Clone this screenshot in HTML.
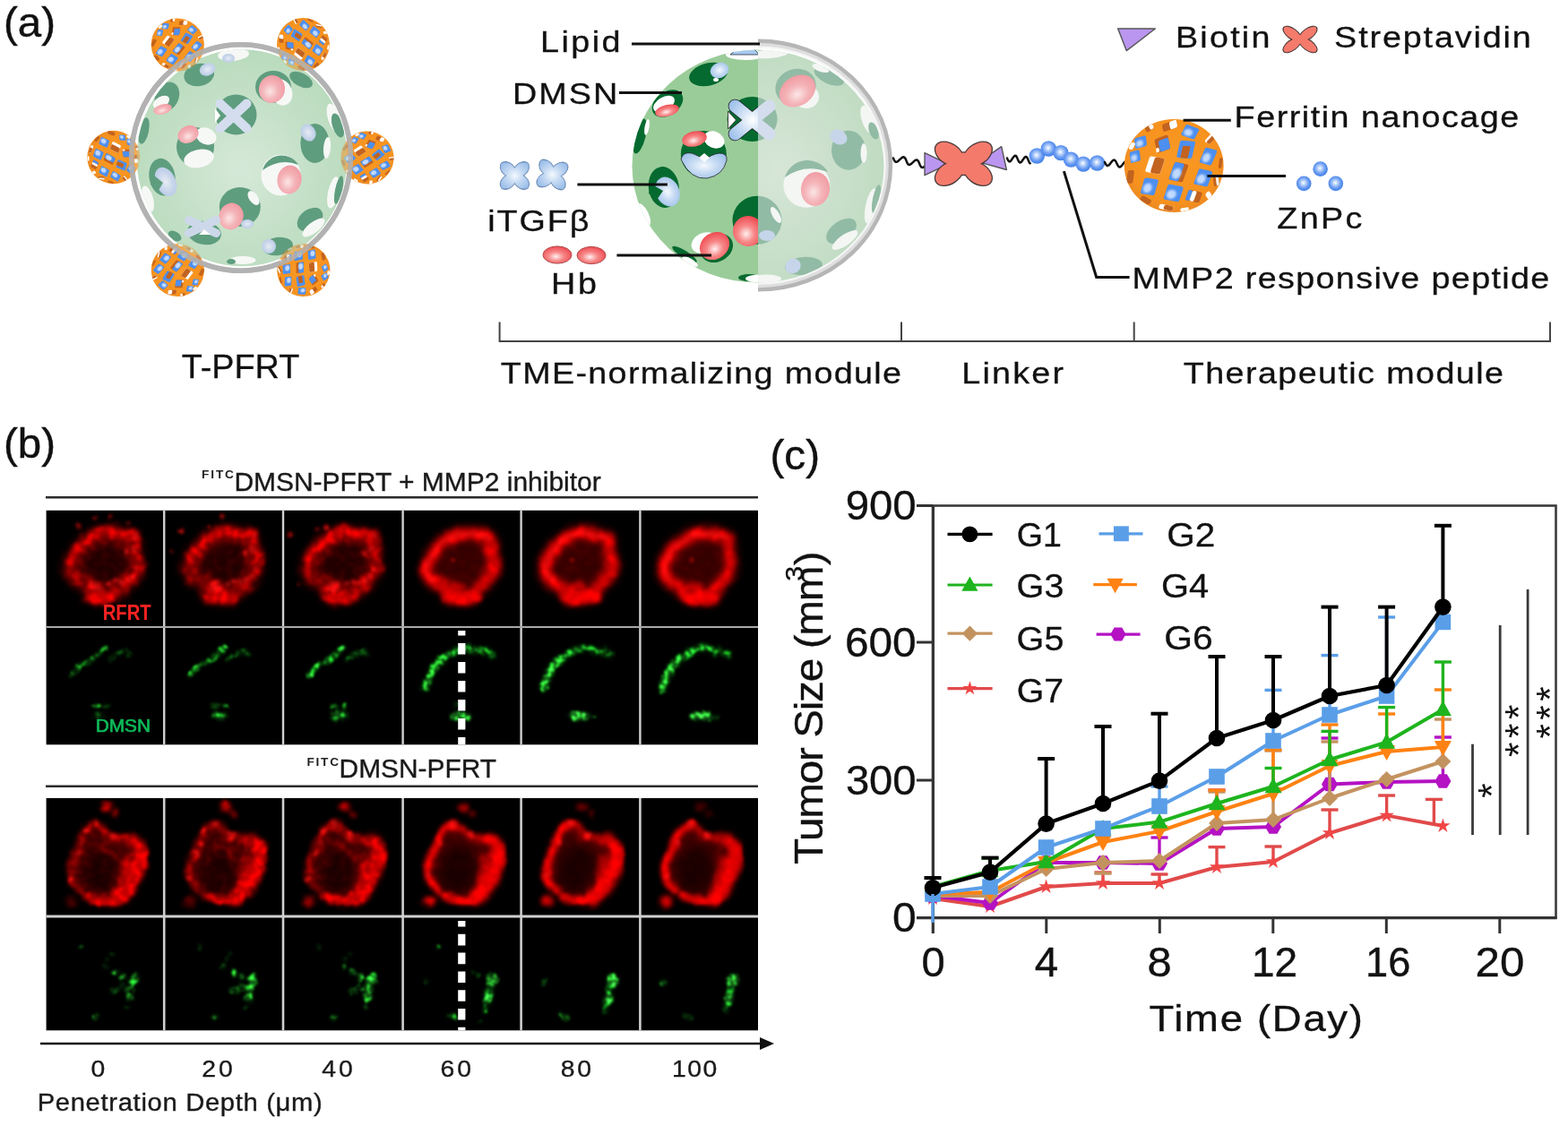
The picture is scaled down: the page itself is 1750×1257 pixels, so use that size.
<!DOCTYPE html>
<html lang="en"><head><meta charset="utf-8"><title>Figure</title>
<style>
html,body{margin:0;padding:0;background:#fff;}
body{width:1750px;height:1257px;overflow:hidden;}
svg{display:block;font-family:"Liberation Sans",sans-serif;}
</style></head><body>
<svg width="1750" height="1257" viewBox="0 0 1750 1257">
<rect width="1750" height="1257" fill="#fff"/>
<defs>
<radialGradient id="gSphL" cx="0.5" cy="0.55" r="0.6"><stop offset="0" stop-color="#d6e9d8"/><stop offset="0.55" stop-color="#c4e0c7"/><stop offset="1" stop-color="#b7dabb"/></radialGradient>
<radialGradient id="gSphR" cx="0.52" cy="0.5" r="0.5" gradientUnits="objectBoundingBox"><stop offset="0" stop-color="#d9ead9"/><stop offset="0.5" stop-color="#c7e1c8"/><stop offset="1" stop-color="#bddcbf"/></radialGradient>
<radialGradient id="gRed" cx="0.45" cy="0.6" r="0.6"><stop offset="0" stop-color="#fff0f0"/><stop offset="0.45" stop-color="#f78888"/><stop offset="1" stop-color="#ee4a52"/></radialGradient>
<radialGradient id="gPink" cx="0.45" cy="0.6" r="0.6"><stop offset="0" stop-color="#fbe6e6"/><stop offset="0.5" stop-color="#f4b4b8"/><stop offset="1" stop-color="#f19ca4"/></radialGradient>
<radialGradient id="gBlue" cx="0.5" cy="0.5" r="0.6"><stop offset="0" stop-color="#f4f9ff"/><stop offset="0.5" stop-color="#c4d9f2"/><stop offset="1" stop-color="#9dc0ea"/></radialGradient>
<radialGradient id="gBlueU" gradientUnits="userSpaceOnUse" cx="0" cy="0" r="30"><stop offset="0" stop-color="#ffffff"/><stop offset="0.45" stop-color="#cfe0f5"/><stop offset="1" stop-color="#9dc0ea"/></radialGradient>
<radialGradient id="gBlueM" cx="0.5" cy="0.5" r="0.6"><stop offset="0" stop-color="#e6ecf4"/><stop offset="0.6" stop-color="#c6d4ea"/><stop offset="1" stop-color="#b7c9e6"/></radialGradient>
<radialGradient id="gBead" cx="0.47" cy="0.45" r="0.55"><stop offset="0" stop-color="#ffffff"/><stop offset="0.3" stop-color="#b4d0fa"/><stop offset="0.65" stop-color="#6b9cf2"/><stop offset="1" stop-color="#3f7ee8"/></radialGradient>
<linearGradient id="gRing" x1="0" y1="0" x2="1" y2="0"><stop offset="0" stop-color="#f2f2f2"/><stop offset="0.55" stop-color="#d2d2d2"/><stop offset="1" stop-color="#a9a9a9"/></linearGradient>
<radialGradient id="gOr" cx="0.5" cy="0.45" r="0.55"><stop offset="0" stop-color="#fa9a26"/><stop offset="0.8" stop-color="#f7921e"/><stop offset="1" stop-color="#ec8a22"/></radialGradient>
<filter id="blb"><feGaussianBlur stdDeviation="1.2"/></filter>
<clipPath id="cBall"><ellipse cx="0" cy="0" rx="55.4" ry="52"/></clipPath>
<radialGradient id="gSphRR" gradientUnits="userSpaceOnUse" cx="868" cy="190" r="135" gradientTransform="translate(868 190) scale(0.85 1) translate(-868 -190)"><stop offset="0" stop-color="#d7e6d7"/><stop offset="0.45" stop-color="#cde1ce"/><stop offset="1" stop-color="#c1dcc3"/></radialGradient>
<clipPath id="cSphR"><ellipse cx="846" cy="185.6" rx="140.5" ry="130"/></clipPath>
<clipPath id="cSphRL"><rect x="700" y="50" width="146" height="280"/></clipPath>
<clipPath id="cSphRR"><rect x="846" y="50" width="160" height="280"/></clipPath>
<clipPath id="cRingL"><ellipse cx="269" cy="176" rx="125" ry="129"/></clipPath>
<clipPath id="cSphL"><ellipse cx="270" cy="176.3" rx="117.5" ry="121"/></clipPath>
<g id="ball"><ellipse cx="0" cy="0" rx="55.4" ry="52" fill="url(#gOr)"/><g clip-path="url(#cBall)">
<g transform="translate(18.1 -37.7) rotate(20) skewX(-8)"><rect x="-7.9" y="-6.7" width="15.9" height="13.4" rx="2" fill="#4d8ff0"/><ellipse cx="-1.6" cy="1.3" rx="4.8" ry="4.0" fill="#cfe2ff" opacity="0.9" filter="url(#blb)"/></g>
<g transform="translate(-37.2 -26.4) rotate(-15) skewX(-8)"><rect x="-6.7" y="-5.8" width="13.4" height="11.6" rx="2" fill="#4d8ff0"/><ellipse cx="-1.3" cy="1.2" rx="4.0" ry="3.5" fill="#cfe2ff" opacity="0.9" filter="url(#blb)"/></g>
<g transform="translate(-12.9 -24.3) rotate(-20) skewX(-8)"><rect x="-7.9" y="-7.9" width="15.9" height="15.9" rx="2" fill="#c2631f"/><rect x="-4.0" y="-4.8" width="11.9" height="12.7" rx="2" fill="#4d8ff0"/><rect x="-8.4" y="2.4" width="3.5" height="4.8" rx="1" fill="#fff"/></g>
<g transform="translate(13.4 -18.1) rotate(5) skewX(-8)"><rect x="-8.5" y="-9.8" width="17.1" height="19.5" rx="2" fill="#4d8ff0"/><rect x="-4.3" y="-3.9" width="8.5" height="13.7" rx="1" fill="#c2631f"/></g>
<g transform="translate(38.3 -10.3) rotate(15) skewX(-8)"><rect x="-7.0" y="-9.2" width="14.0" height="18.3" rx="2" fill="#4d8ff0"/><ellipse cx="-1.4" cy="1.8" rx="4.2" ry="5.5" fill="#cfe2ff" opacity="0.9" filter="url(#blb)"/></g>
<g transform="translate(-43.4 -10.3) rotate(-15) skewX(-8)"><rect x="-5.8" y="-6.1" width="11.6" height="12.2" rx="2" fill="#4d8ff0"/><ellipse cx="-1.2" cy="1.2" rx="3.5" ry="3.7" fill="#cfe2ff" opacity="0.9" filter="url(#blb)"/></g>
<g transform="translate(-21.2 -0.5) rotate(10) skewX(-8)"><rect x="-8.5" y="-9.2" width="17.1" height="18.3" rx="2" fill="#fff"/><rect x="-2.6" y="-9.2" width="11.1" height="18.3" rx="2" fill="#c2631f"/></g>
<g transform="translate(5.2 7.2) rotate(12) skewX(-8)"><rect x="-7.9" y="-10.4" width="15.9" height="20.7" rx="2" fill="#c2631f"/><rect x="-7.9" y="-10.4" width="11.1" height="20.7" rx="2" fill="#4d8ff0"/><ellipse cx="-1.6" cy="2.1" rx="4.8" ry="6.2" fill="#cfe2ff" opacity="0.9" filter="url(#blb)"/></g>
<g transform="translate(32.6 13.4) rotate(12) skewX(-8)"><rect x="-7.9" y="-9.2" width="15.9" height="18.3" rx="2" fill="#4d8ff0"/><ellipse cx="-1.6" cy="1.8" rx="4.8" ry="5.5" fill="#cfe2ff" opacity="0.9" filter="url(#blb)"/></g>
<g transform="translate(-27.4 23.3) rotate(8) skewX(-8)"><rect x="-7.9" y="-9.2" width="15.9" height="18.3" rx="2" fill="#4d8ff0"/><ellipse cx="-1.6" cy="1.8" rx="4.8" ry="5.5" fill="#cfe2ff" opacity="0.9" filter="url(#blb)"/></g>
<g transform="translate(-0.5 30.5) rotate(10) skewX(-8)"><rect x="-8.8" y="-8.8" width="17.7" height="17.7" rx="2" fill="#4d8ff0"/><ellipse cx="-1.8" cy="1.8" rx="5.3" ry="5.3" fill="#cfe2ff" opacity="0.9" filter="url(#blb)"/></g>
<g transform="translate(22.2 34.1) rotate(12) skewX(-8)"><rect x="-7.9" y="-6.1" width="15.9" height="12.2" rx="2" fill="#c2631f"/><rect x="-7.9" y="-6.1" width="4.8" height="12.2" rx="2" fill="#4d8ff0"/><rect x="-3.2" y="-6.1" width="4.8" height="12.2" rx="2" fill="#fff"/></g>
<g transform="translate(-4.7 -44.5) rotate(-20) skewX(-8)"><rect x="-8.5" y="-4.3" width="17.1" height="8.5" rx="2" fill="#c2631f"/><rect x="0.0" y="-4.3" width="8.5" height="8.5" rx="2" fill="#fff"/></g>
<g transform="translate(-48.6 12.4) rotate(0) skewX(-8)"><rect x="-3.7" y="-7.3" width="7.3" height="14.6" rx="2" fill="#c2631f"/></g>
<g transform="translate(-8.8 46.5) rotate(12) skewX(-8)"><rect x="-7.9" y="-2.7" width="15.9" height="5.5" rx="2" fill="#fff"/><rect x="-2.4" y="-2.7" width="10.3" height="5.5" rx="2" fill="#c2631f"/></g>
<g transform="translate(11.9 48.6) rotate(-8) skewX(-8)"><rect x="-4.9" y="-1.8" width="9.8" height="3.7" rx="2" fill="#fff"/></g>
<g transform="translate(40.8 -30.0) rotate(35) skewX(-8)"><rect x="-3.4" y="-6.1" width="6.7" height="12.2" rx="2" fill="#fff"/><rect x="-1.0" y="-6.1" width="4.4" height="12.2" rx="2" fill="#c2631f"/></g>
<g transform="translate(47.0 16.5) rotate(-15) skewX(-8)"><rect x="-3.0" y="-6.1" width="6.1" height="12.2" rx="2" fill="#c2631f"/><rect x="0.0" y="-6.1" width="3.0" height="12.2" rx="2" fill="#fff"/></g>
<g transform="translate(38.8 33.0) rotate(-40) skewX(-8)"><rect x="-3.0" y="-3.7" width="6.1" height="7.3" rx="2" fill="#fff"/></g>
<g transform="translate(-31.5 38.3) rotate(30) skewX(-8)"><rect x="-6.1" y="-3.0" width="12.2" height="6.1" rx="2" fill="#c2631f"/></g>
<g transform="translate(-27.4 -42.4) rotate(-35) skewX(-8)"><rect x="-4.9" y="-3.0" width="9.8" height="6.1" rx="2" fill="#c2631f"/><rect x="0.0" y="-3.0" width="4.9" height="6.1" rx="2" fill="#fff"/></g>
<g transform="translate(52.0 -3.0) rotate(0) skewX(-8)"><rect x="-1.8" y="-6.1" width="3.7" height="12.2" rx="2" fill="#c2631f"/></g>
<g transform="translate(-47.0 -22.0) rotate(20) skewX(-8)"><rect x="-2.4" y="-4.3" width="4.9" height="8.5" rx="2" fill="#fff"/></g>
</g></g>
</defs>
<g id="sphL">
<use href="#ball" transform="translate(198.3 50) rotate(20) scale(0.535 0.565)"/>
<use href="#ball" transform="translate(338.4 49.5) rotate(-70) scale(0.535 0.565)"/>
<use href="#ball" transform="translate(126.7 175.5) rotate(100) scale(0.535 0.565)"/>
<use href="#ball" transform="translate(410 176) rotate(40) scale(0.535 0.565)"/>
<use href="#ball" transform="translate(198.3 301.6) rotate(200) scale(0.535 0.565)"/>
<use href="#ball" transform="translate(338.8 301.6) rotate(160) scale(0.535 0.565)"/>
<ellipse cx="269" cy="176" rx="122" ry="126" fill="#fff" fill-opacity="0.42"/>
<ellipse cx="269" cy="176" rx="122.3" ry="126.3" fill="none" stroke="#b2b2b2" stroke-width="5.6"/>
<ellipse cx="270" cy="176.3" rx="117.5" ry="121" fill="url(#gSphL)"/>
<g clip-path="url(#cSphL)">
<ellipse cx="222.2" cy="83.6" rx="17" ry="12.5" fill="#5f9d7f" transform="rotate(-12 222.2 83.6)"/>
<ellipse cx="231.5" cy="77.5" rx="9" ry="7" fill="url(#gBlueM)" transform="rotate(-20 231.5 77.5)"/>
<ellipse cx="260.5" cy="61" rx="17.5" ry="7" fill="#f6f8f6" transform="rotate(-5 260.5 61)"/>
<ellipse cx="255" cy="65" rx="7" ry="5" fill="url(#gBlueM)"/>
<ellipse cx="305" cy="97" rx="20" ry="18" fill="#5f9d7f"/>
<ellipse cx="314" cy="103" rx="12" ry="15" fill="#f6f8f6" transform="rotate(-20 314 103)"/>
<ellipse cx="303.5" cy="99.5" rx="14.5" ry="15.5" fill="url(#gPink)" transform="rotate(15 303.5 99.5)"/>
<ellipse cx="336" cy="89" rx="14" ry="7.5" fill="#5f9d7f" transform="rotate(28 336 89)"/>
<ellipse cx="186.4" cy="108" rx="13" ry="17" fill="#5f9d7f" transform="rotate(25 186.4 108)"/>
<ellipse cx="180" cy="114" rx="10" ry="6" fill="#f6f8f6" transform="rotate(-30 180 114)"/>
<ellipse cx="181.5" cy="122" rx="10.5" ry="5.5" fill="url(#gPink)" transform="rotate(-15 181.5 122)"/>
<ellipse cx="263.5" cy="128" rx="23" ry="22.5" fill="#5f9d7f"/>
<g transform="translate(260.5 129.5) rotate(0)" fill="none" stroke-linecap="round"><path d="M-14.75,-13.75 L14.75,13.75 M-14.75,13.75 L14.75,-13.75" stroke="#d3dded" stroke-width="10.5"/></g>
<path d="M240,121 l6,8 l-6,8 z" fill="#fff"/>
<ellipse cx="373" cy="132" rx="7" ry="17" fill="#f6f8f6" transform="rotate(-18 373 132)"/>
<ellipse cx="377" cy="140" rx="6" ry="14" fill="#5f9d7f" transform="rotate(-18 377 140)"/>
<ellipse cx="160.5" cy="146" rx="5.5" ry="15" fill="#5f9d7f" transform="rotate(12 160.5 146)"/>
<ellipse cx="218" cy="164" rx="21" ry="22" fill="#5f9d7f"/>
<ellipse cx="230" cy="152" rx="12" ry="9" fill="#f6f8f6" transform="rotate(25 230 152)"/>
<ellipse cx="210" cy="150" rx="12" ry="9.5" fill="url(#gPink)" transform="rotate(-25 210 150)"/>
<ellipse cx="222" cy="177" rx="17" ry="10" fill="#f6f8f6" transform="rotate(-12 222 177)"/>
<ellipse cx="351.4" cy="160" rx="16" ry="22" fill="#5f9d7f"/>
<ellipse cx="344" cy="148" rx="8" ry="10" fill="url(#gBlueM)" transform="rotate(-30 344 148)"/>
<ellipse cx="365" cy="165" rx="4" ry="12" fill="#f6f8f6" transform="rotate(5 365 165)"/>
<ellipse cx="313.5" cy="195.5" rx="22" ry="23" fill="#f6f8f6"/>
<path d="M293,190 a22,22 0 0 1 40,-6 q-20,-8 -40,6z" fill="#5f9d7f"/>
<ellipse cx="323" cy="200.5" rx="13.5" ry="16" fill="url(#gPink)" transform="rotate(10 323 200.5)"/>
<ellipse cx="181" cy="197.6" rx="14.5" ry="21" fill="#5f9d7f" transform="rotate(-10 181 197.6)"/>
<ellipse cx="185" cy="203" rx="11" ry="17" fill="url(#gBlueM)" transform="rotate(-25 185 203)"/>
<path d="M172,196 l10,8 l-6,10 l-8,-8 z" fill="#5f9d7f"/>
<ellipse cx="372" cy="215" rx="6" ry="18" fill="#f6f8f6" transform="rotate(12 372 215)"/>
<ellipse cx="378" cy="212" rx="4" ry="16" fill="#5f9d7f" transform="rotate(12 378 212)"/>
<ellipse cx="165" cy="222" rx="6" ry="15" fill="#f6f8f6" transform="rotate(-15 165 222)"/>
<ellipse cx="267.8" cy="231" rx="23" ry="22" fill="#5f9d7f"/>
<ellipse cx="283" cy="221" rx="5" ry="9" fill="#f6f8f6" transform="rotate(-35 283 221)"/>
<ellipse cx="258" cy="241.5" rx="13.5" ry="15" fill="url(#gPink)" transform="rotate(20 258 241.5)"/>
<ellipse cx="276" cy="250" rx="7" ry="5" fill="url(#gBlueM)"/>
<ellipse cx="228" cy="260" rx="19" ry="13" fill="#5f9d7f" transform="rotate(10 228 260)"/>
<g transform="translate(226 253) rotate(0)" fill="none" stroke-linecap="round"><path d="M-15.25,-7.25 L15.25,7.25 M-15.25,7.25 L15.25,-7.25" stroke="#ccd8ea" stroke-width="9.5"/></g>
<path d="M222,262 l6,-6 l7,6 z" fill="#fff"/>
<ellipse cx="346" cy="245" rx="16" ry="11" fill="#5f9d7f" transform="rotate(-38 346 245)"/>
<ellipse cx="350" cy="254" rx="15" ry="6" fill="#f6f8f6" transform="rotate(-38 350 254)"/>
<ellipse cx="310" cy="275" rx="17" ry="10" fill="#5f9d7f" transform="rotate(-8 310 275)"/>
<ellipse cx="300" cy="275" rx="8" ry="8" fill="url(#gBlueM)" transform="rotate(-30 300 275)"/>
<ellipse cx="271" cy="290.5" rx="14.5" ry="4.5" fill="#f6f8f6"/>
<ellipse cx="258" cy="292" rx="5" ry="3" fill="#5f9d7f"/>
<ellipse cx="195" cy="263.5" rx="8" ry="5" fill="#5f9d7f" transform="rotate(30 195 263.5)"/>
</g>
<g clip-path="url(#cRingL)" opacity="0.5">
<use href="#ball" transform="translate(198.3 50) rotate(20) scale(0.535 0.565)"/>
<use href="#ball" transform="translate(338.4 49.5) rotate(-70) scale(0.535 0.565)"/>
<use href="#ball" transform="translate(126.7 175.5) rotate(100) scale(0.535 0.565)"/>
<use href="#ball" transform="translate(410 176) rotate(40) scale(0.535 0.565)"/>
<use href="#ball" transform="translate(198.3 301.6) rotate(200) scale(0.535 0.565)"/>
<use href="#ball" transform="translate(338.8 301.6) rotate(160) scale(0.535 0.565)"/>
</g>
<ellipse cx="269" cy="176" rx="122.3" ry="126.3" fill="none" stroke="#b2b2b2" stroke-width="5.6" opacity="0.75"/>
</g>
<g id="sphR">
<path d="M846,47.8 A146,136.8 0 0 1 846,321.4" fill="none" stroke="#b6b6b6" stroke-width="8.4"/>
<path d="M846,50 A143.8,134.6 0 0 1 846,319.2" fill="none" stroke="#dedede" stroke-width="4"/>
<path d="M846,52.6 A141.6,132 0 0 1 846,316.6" fill="none" stroke="#f6f6f6" stroke-width="2.4"/>
<g clip-path="url(#cSphR)">
<rect x="700" y="50" width="146" height="280" fill="#9acc99"/>
<rect x="846" y="50" width="150" height="280" fill="url(#gSphRR)"/>
<g clip-path="url(#cSphRL)">
<ellipse cx="790.7" cy="83" rx="22" ry="12.5" fill="#056a2f" transform="rotate(-14 790.7 83)"/>
<ellipse cx="803" cy="78.5" rx="10.5" ry="8.5" fill="url(#gBlue)" transform="rotate(-20 803 78.5)"/>
<ellipse cx="799" cy="89" rx="3" ry="2" fill="#fff"/>
<ellipse cx="745" cy="115.5" rx="19" ry="13" fill="#056a2f" transform="rotate(-35 745 115.5)"/>
<ellipse cx="741" cy="116" rx="13" ry="7.5" fill="#fff" transform="rotate(-30 741 116)"/>
<ellipse cx="744.5" cy="123.5" rx="13.5" ry="6.5" fill="url(#gRed)" transform="rotate(-14 744.5 123.5)"/>
<ellipse cx="714" cy="152" rx="6.5" ry="20" fill="#056a2f" transform="rotate(14 714 152)"/>
<ellipse cx="722" cy="142" rx="2.5" ry="9" fill="#fff" transform="rotate(10 722 142)"/>
<ellipse cx="839.6" cy="133" rx="28" ry="25" fill="#056a2f"/>
<ellipse cx="785.3" cy="172" rx="25.5" ry="26" fill="#056a2f"/>
<ellipse cx="797" cy="156" rx="12" ry="9" fill="#fff" transform="rotate(25 797 156)"/>
<ellipse cx="775" cy="155" rx="14" ry="8.5" fill="url(#gRed)" transform="rotate(-12 775 155)"/>
<path d="M760,178 q2,-9 12,-7 q8,2 14,9 q7,-8 17,-9 q9,0 8,8 q-4,17 -22,20 q-18,2 -29,-21z" fill="url(#gBlue)" stroke="#222" stroke-width="0.8"/>
<path d="M780,176 l6,-5 l6,5 l-6,5z" fill="#fff"/>
<ellipse cx="740.8" cy="209" rx="17" ry="23" fill="#056a2f" transform="rotate(-8 740.8 209)"/>
<ellipse cx="745" cy="214" rx="13" ry="17" fill="url(#gBlue)" transform="rotate(-25 745 214)"/>
<path d="M726,205 l14,8 l-7,10 l-9,-7 z" fill="#056a2f"/>
<ellipse cx="845" cy="245.8" rx="27.5" ry="27" fill="#056a2f"/>
<ellipse cx="835" cy="258" rx="17" ry="17" fill="url(#gRed)" transform="rotate(10 835 258)"/>
<ellipse cx="800" cy="277" rx="19" ry="15" fill="#056a2f" transform="rotate(-30 800 277)"/>
<ellipse cx="786" cy="271" rx="15" ry="11" fill="#fff" transform="rotate(-25 786 271)"/>
<ellipse cx="797.5" cy="274.5" rx="17.5" ry="14.5" fill="url(#gRed)" transform="rotate(-35 797.5 274.5)"/>
<ellipse cx="718" cy="240" rx="6" ry="14" fill="#fff" transform="rotate(-25 718 240)"/>
<ellipse cx="764" cy="284" rx="16" ry="4" fill="#056a2f" transform="rotate(32 764 284)"/>
<ellipse cx="770" cy="292" rx="10" ry="3.5" fill="#fff" transform="rotate(30 770 292)"/>
<ellipse cx="832" cy="61" rx="22" ry="6" fill="#fff"/>
<path d="M815,61 q10,-10 18,-8 q8,-2 14,8z" fill="#a9c9ee" stroke="#234" stroke-width="0.8"/>
<ellipse cx="836" cy="310" rx="12" ry="4" fill="#056a2f"/>
<ellipse cx="849" cy="311" rx="17" ry="4.5" fill="#fff"/>
</g>
<g clip-path="url(#cSphRR)">
<ellipse cx="839.6" cy="133" rx="28" ry="25" fill="#92bba5"/>
<ellipse cx="845" cy="245.8" rx="27.5" ry="27" fill="#92bba5"/>
<ellipse cx="866" cy="240" rx="4" ry="10" fill="#f4f6f4" transform="rotate(-30 866 240)"/>
<ellipse cx="856" cy="263" rx="9" ry="6" fill="#c7d5ea"/>
<ellipse cx="860" cy="60" rx="20" ry="5" fill="#f4f6f4" transform="rotate(-5 860 60)"/>
<ellipse cx="855" cy="311" rx="17" ry="4.5" fill="#f4f6f4"/>
<ellipse cx="888" cy="97" rx="23" ry="20" fill="#92bba5" transform="rotate(-20 888 97)"/>
<ellipse cx="900" cy="108" rx="14" ry="13" fill="#f4f6f4"/>
<ellipse cx="890" cy="101.5" rx="21.5" ry="16.5" fill="url(#gPink)" transform="rotate(-32 890 101.5)"/>
<ellipse cx="925.4" cy="85" rx="18" ry="8.5" fill="#92bba5" transform="rotate(25 925.4 85)"/>
<ellipse cx="916" cy="76" rx="10" ry="4" fill="#f4f6f4" transform="rotate(20 916 76)"/>
<ellipse cx="969" cy="134" rx="7" ry="17" fill="#f4f6f4" transform="rotate(-20 969 134)"/>
<ellipse cx="975" cy="146" rx="5" ry="10" fill="#92bba5" transform="rotate(-20 975 146)"/>
<ellipse cx="947" cy="167.7" rx="19" ry="22" fill="#92bba5"/>
<ellipse cx="936" cy="153" rx="10" ry="8" fill="#c7d5ea" transform="rotate(30 936 153)"/>
<ellipse cx="964" cy="171" rx="3.5" ry="11" fill="#f4f6f4"/>
<ellipse cx="900.4" cy="206.7" rx="26" ry="25" fill="#f4f6f4"/>
<path d="M876,198 a26,25 0 0 1 48,-6 q-26,-10 -48,6z" fill="#92bba5"/>
<ellipse cx="910" cy="211" rx="16" ry="19" fill="url(#gPink)" transform="rotate(8 910 211)"/>
<ellipse cx="972" cy="230" rx="6" ry="20" fill="#f4f6f4" transform="rotate(12 972 230)"/>
<ellipse cx="978" cy="222" rx="4" ry="16" fill="#92bba5" transform="rotate(12 978 222)"/>
<ellipse cx="939" cy="258" rx="19" ry="11" fill="#92bba5" transform="rotate(-35 939 258)"/>
<ellipse cx="943" cy="268" rx="17" ry="6" fill="#f4f6f4" transform="rotate(-35 943 268)"/>
<ellipse cx="897" cy="297" rx="21" ry="10" fill="#92bba5" transform="rotate(-5 897 297)"/>
<ellipse cx="885" cy="297" rx="9" ry="8" fill="#c7d5ea" transform="rotate(-30 885 297)"/>
</g>
<g clip-path="url(#cSphRL)"><g transform="translate(839.5 134) rotate(0)" fill="none" stroke-linecap="round"><path d="M-19.0,-15.5 L19.0,15.5 M-19.0,15.5 L19.0,-15.5" stroke="#222" stroke-width="15.6"/><path d="M-19.0,-15.5 L19.0,15.5 M-19.0,15.5 L19.0,-15.5" stroke="url(#gBlueU)" stroke-width="14"/></g>
<path d="M812.5,124 l9,10 l-9,10 z" fill="#fff" stroke="#222" stroke-width="0.8"/></g>
<g clip-path="url(#cSphRR)"><g transform="translate(839.5 134) rotate(0)" fill="none" stroke-linecap="round"><path d="M-19.0,-15.5 L19.0,15.5 M-19.0,15.5 L19.0,-15.5" stroke="#d3dded" stroke-width="14"/></g>
</g>
</g>
</g>
<g id="linker">
<path d="M997.0,176.5 L997.6,178.0 L998.2,179.3 L998.9,180.2 L999.7,180.8 L1000.7,180.8 L1001.7,180.3 L1002.8,179.5 L1003.9,178.4 L1005.1,177.3 L1006.2,176.3 L1007.3,175.6 L1008.2,175.3 L1009.1,175.5 L1009.9,176.2 L1010.6,177.2 L1011.2,178.6 L1011.8,180.1 L1012.4,181.6 L1013.0,182.8 L1013.8,183.6 L1014.6,184.0 L1015.6,183.8 L1016.6,183.2 L1017.7,182.3 L1018.9,181.2 L1020.0,180.1 L1021.1,179.2 L1022.2,178.6 L1023.1,178.4 L1024.0,178.8 L1024.7,179.6 L1025.4,180.8 L1026.0,182.2 L1026.6,183.8 L1027.2,185.1 L1027.9,186.2 L1028.6,186.9 L1029.5,187.1 L1030.5,186.8 L1031.6,186.1" fill="none" stroke="#111" stroke-width="2.5" stroke-linecap="round" stroke-linejoin="round"/>
<path d="M1032,170.6 L1032,195.7 L1058.3,183.1 Z" fill="#bb96f0" stroke="#555" stroke-width="1.4" stroke-linejoin="round"/>
<path d="M1117.7,163.7 L1123.4,189.5 L1092.6,180.9 Z" fill="#bb96f0" stroke="#555" stroke-width="1.4" stroke-linejoin="round"/>
<g transform="translate(1075.4 182.7) rotate(0)"><ellipse cx="19.26" cy="0" rx="18.38" ry="12.20" transform="rotate(34.3)" fill="#4a3a3a"/><ellipse cx="19.26" cy="0" rx="18.38" ry="12.20" transform="rotate(-34.3)" fill="#4a3a3a"/><ellipse cx="19.26" cy="0" rx="18.38" ry="12.20" transform="rotate(145.7)" fill="#4a3a3a"/><ellipse cx="19.26" cy="0" rx="18.38" ry="12.20" transform="rotate(214.3)" fill="#4a3a3a"/><circle r="13.51" fill="#4a3a3a"/><ellipse cx="19.26" cy="0" rx="17.08" ry="10.90" transform="rotate(34.3)" fill="#f47b6c"/><ellipse cx="19.26" cy="0" rx="17.08" ry="10.90" transform="rotate(-34.3)" fill="#f47b6c"/><ellipse cx="19.26" cy="0" rx="17.08" ry="10.90" transform="rotate(145.7)" fill="#f47b6c"/><ellipse cx="19.26" cy="0" rx="17.08" ry="10.90" transform="rotate(214.3)" fill="#f47b6c"/><circle r="12.21" fill="#f47b6c"/></g>
<path d="M1124.0,176.5 L1124.5,177.8 L1125.1,178.9 L1125.7,179.8 L1126.3,180.3 L1126.9,180.4 L1127.6,180.0 L1128.3,179.3 L1129.1,178.3 L1129.8,177.2 L1130.6,176.0 L1131.4,175.0 L1132.1,174.2 L1132.8,173.8 L1133.4,173.8 L1134.1,174.2 L1134.6,175.0 L1135.2,176.1 L1135.7,177.4 L1136.3,178.7 L1136.8,179.9 L1137.4,180.8 L1138.0,181.3 L1138.6,181.5 L1139.3,181.2 L1140.0,180.6 L1140.8,179.7 L1141.5,178.5 L1142.3,177.4 L1143.0,176.3 L1143.8,175.5 L1144.5,175.0 L1145.1,174.9 L1145.8,175.3 L1146.4,176.0 L1146.9,177.1 L1147.4,178.3 L1148.0,179.6 L1148.5,180.8 L1149.1,181.8 L1149.7,182.4" fill="none" stroke="#111" stroke-width="2.5" stroke-linecap="round" stroke-linejoin="round"/>
<circle cx="1157.3" cy="174" r="8.7" fill="url(#gBead)"/>
<circle cx="1170.3" cy="166" r="8.7" fill="url(#gBead)"/>
<circle cx="1184" cy="170.6" r="8.7" fill="url(#gBead)"/>
<circle cx="1195.4" cy="178.1" r="8.7" fill="url(#gBead)"/>
<circle cx="1209.1" cy="183.1" r="8.7" fill="url(#gBead)"/>
<circle cx="1224.5" cy="182" r="8.7" fill="url(#gBead)"/>
<path d="M1233.0,181.0 L1233.6,182.4 L1234.3,183.5 L1235.0,184.4 L1235.7,184.9 L1236.5,184.9 L1237.3,184.5 L1238.2,183.7 L1239.1,182.6 L1240.0,181.4 L1240.9,180.3 L1241.8,179.3 L1242.7,178.7 L1243.5,178.6 L1244.2,178.9 L1244.9,179.6 L1245.6,180.7 L1246.2,182.0 L1246.9,183.4 L1247.5,184.6 L1248.2,185.6 L1248.9,186.3 L1249.6,186.5 L1250.5,186.2 L1251.3,185.5 L1252.2,184.6 L1253.1,183.4 L1254.1,182.2 L1255.0,181.2 L1255.8,180.4 L1256.6,180.1 L1257.4,180.2 L1258.1,180.8 L1258.8,181.7 L1259.5,183.0 L1260.1,184.3 L1260.7,185.7 L1261.4,186.8 L1262.1,187.6 L1262.8,188.0 L1263.6,187.9" fill="none" stroke="#111" stroke-width="2.5" stroke-linecap="round" stroke-linejoin="round"/>
<use href="#ball" transform="translate(1310.2 185)"/>
</g>
<g id="labelsA">
<text transform="translate(4.05 40.7) scale(1.032 1)" font-size="46" fill="#111" stroke="#111" stroke-width="0.4">(a)</text>
<text transform="translate(202.74 421.8) scale(1.035 1)" font-size="36.5" fill="#111" stroke="#111" stroke-width="0.3">T-PFRT</text>
<text transform="translate(602.98 58.4) scale(1.110 1)" font-size="34" fill="#111" letter-spacing="2.22" stroke="#111" stroke-width="0.3">Lipid</text>
<line x1="705" y1="49" x2="848" y2="49" stroke="#111" stroke-width="3"/>
<text transform="translate(571.98 115.6) scale(1.110 1)" font-size="34" fill="#111" letter-spacing="1.83" stroke="#111" stroke-width="0.3">DMSN</text>
<line x1="691" y1="103.4" x2="761" y2="103.4" stroke="#111" stroke-width="3"/>
<line x1="644.4" y1="206" x2="745" y2="206" stroke="#111" stroke-width="3"/>
<text transform="translate(544.15 258) scale(1.110 1)" font-size="34" fill="#111" letter-spacing="1.77" stroke="#111" stroke-width="0.3">iTGFβ</text>
<line x1="688.4" y1="285" x2="794" y2="285" stroke="#111" stroke-width="3"/>
<text transform="translate(614.98 328) scale(1.110 1)" font-size="34" fill="#111" letter-spacing="2.53" stroke="#111" stroke-width="0.3">Hb</text>
<g transform="translate(574.4 196) rotate(0)"><ellipse cx="9.91" cy="0" rx="10.91" ry="7.54" transform="rotate(43.0)" fill="#6f8fb8"/><ellipse cx="9.91" cy="0" rx="10.91" ry="7.54" transform="rotate(-43.0)" fill="#6f8fb8"/><ellipse cx="9.91" cy="0" rx="10.91" ry="7.54" transform="rotate(137.0)" fill="#6f8fb8"/><ellipse cx="9.91" cy="0" rx="10.91" ry="7.54" transform="rotate(223.0)" fill="#6f8fb8"/><circle r="6.88" fill="#6f8fb8"/><clipPath id="xc1"><ellipse cx="9.91" cy="0" rx="9.91" ry="6.54" transform="rotate(43.0)" /><ellipse cx="9.91" cy="0" rx="9.91" ry="6.54" transform="rotate(-43.0)" /><ellipse cx="9.91" cy="0" rx="9.91" ry="6.54" transform="rotate(137.0)" /><ellipse cx="9.91" cy="0" rx="9.91" ry="6.54" transform="rotate(223.0)" /><circle r="5.88" /></clipPath><rect x="-15.5" y="-14.5" width="31.0" height="29.0" fill="url(#gBlue)" clip-path="url(#xc1)"/></g>
<g transform="translate(616.4 195) rotate(8)"><ellipse cx="9.91" cy="0" rx="10.91" ry="7.54" transform="rotate(43.0)" fill="#6f8fb8"/><ellipse cx="9.91" cy="0" rx="10.91" ry="7.54" transform="rotate(-43.0)" fill="#6f8fb8"/><ellipse cx="9.91" cy="0" rx="10.91" ry="7.54" transform="rotate(137.0)" fill="#6f8fb8"/><ellipse cx="9.91" cy="0" rx="10.91" ry="7.54" transform="rotate(223.0)" fill="#6f8fb8"/><circle r="6.88" fill="#6f8fb8"/><clipPath id="xc2"><ellipse cx="9.91" cy="0" rx="9.91" ry="6.54" transform="rotate(43.0)" /><ellipse cx="9.91" cy="0" rx="9.91" ry="6.54" transform="rotate(-43.0)" /><ellipse cx="9.91" cy="0" rx="9.91" ry="6.54" transform="rotate(137.0)" /><ellipse cx="9.91" cy="0" rx="9.91" ry="6.54" transform="rotate(223.0)" /><circle r="5.88" /></clipPath><rect x="-15.5" y="-14.5" width="31.0" height="29.0" fill="url(#gBlue)" clip-path="url(#xc2)"/></g>
<ellipse cx="622" cy="284.5" rx="16" ry="9.6" fill="url(#gRed)" stroke="#b04848" stroke-width="1"/>
<ellipse cx="660" cy="285" rx="16" ry="9.6" fill="url(#gRed)" stroke="#b04848" stroke-width="1"/>
<path d="M557.6,359.5 V381 H1730 V359.5 M1006,359.5 V381 M1265.7,359.5 V381" fill="none" stroke="#444" stroke-width="2"/>
<text transform="translate(558.75 428) scale(1.110 1)" font-size="34" fill="#111" letter-spacing="1.20" stroke="#111" stroke-width="0.3">TME-normalizing module</text>
<text transform="translate(1073.28 428) scale(1.110 1)" font-size="34" fill="#111" letter-spacing="1.97" stroke="#111" stroke-width="0.3">Linker</text>
<text transform="translate(1320.75 428) scale(1.110 1)" font-size="34" fill="#111" letter-spacing="1.26" stroke="#111" stroke-width="0.3">Therapeutic module</text>
<path d="M1247.7,32 L1289.3,32 L1257.2,56.6 Z" fill="#bb96f0" stroke="#555" stroke-width="1.4" stroke-linejoin="round"/>
<text transform="translate(1311.98 53) scale(1.110 1)" font-size="34" fill="#111" letter-spacing="2.00" stroke="#111" stroke-width="0.3">Biotin</text>
<g transform="translate(1451 44) rotate(0)"><ellipse cx="11.10" cy="0" rx="12.20" ry="6.32" transform="rotate(35.8)" fill="#4a3a3a"/><ellipse cx="11.10" cy="0" rx="12.20" ry="6.32" transform="rotate(-35.8)" fill="#4a3a3a"/><ellipse cx="11.10" cy="0" rx="12.20" ry="6.32" transform="rotate(144.2)" fill="#4a3a3a"/><ellipse cx="11.10" cy="0" rx="12.20" ry="6.32" transform="rotate(215.8)" fill="#4a3a3a"/><circle r="6.06" fill="#4a3a3a"/><ellipse cx="11.10" cy="0" rx="11.10" ry="5.22" transform="rotate(35.8)" fill="#f47b6c"/><ellipse cx="11.10" cy="0" rx="11.10" ry="5.22" transform="rotate(-35.8)" fill="#f47b6c"/><ellipse cx="11.10" cy="0" rx="11.10" ry="5.22" transform="rotate(144.2)" fill="#f47b6c"/><ellipse cx="11.10" cy="0" rx="11.10" ry="5.22" transform="rotate(215.8)" fill="#f47b6c"/><circle r="4.96" fill="#f47b6c"/></g>
<text transform="translate(1489.10 53) scale(1.110 1)" font-size="34" fill="#111" letter-spacing="1.68" stroke="#111" stroke-width="0.3">Streptavidin</text>
<line x1="1320.6" y1="134.2" x2="1373.8" y2="134.2" stroke="#111" stroke-width="3"/>
<text transform="translate(1377.58 142.3) scale(1.110 1)" font-size="34" fill="#111" letter-spacing="1.36" stroke="#111" stroke-width="0.3">Ferritin nanocage</text>
<line x1="1347.4" y1="196.6" x2="1435" y2="196.6" stroke="#111" stroke-width="3"/>
<circle cx="1473.6" cy="188.6" r="8.3" fill="url(#gBead)"/>
<circle cx="1455.2" cy="204.9" r="8.3" fill="url(#gBead)"/>
<circle cx="1490.8" cy="204.9" r="8.3" fill="url(#gBead)"/>
<text transform="translate(1425.37 255) scale(1.110 1)" font-size="34" fill="#111" letter-spacing="2.09" stroke="#111" stroke-width="0.3">ZnPc</text>
<path d="M1187.4,191.1 L1223.7,309.5 H1260.6" fill="none" stroke="#111" stroke-width="3"/>
<text transform="translate(1263.58 321.5) scale(1.110 1)" font-size="34" fill="#111" letter-spacing="1.21" stroke="#111" stroke-width="0.3">MMP2 responsive peptide</text>
</g>
<g id="panelb">
<text transform="translate(4.05 510.8) scale(1.032 1)" font-size="46" fill="#111" stroke="#111" stroke-width="0.4">(b)</text>
<line x1="51" y1="555.2" x2="846" y2="555.2" stroke="#2a2a2a" stroke-width="2.4"/>
<line x1="51" y1="877.8" x2="846" y2="877.8" stroke="#2a2a2a" stroke-width="2.6"/>
<text transform="translate(225.12 534) scale(1.080 1)" font-size="12.6" fill="#222" letter-spacing="1.73" font-weight="bold">FITC</text>
<text transform="translate(261.40 547.8) scale(1.041 1)" font-size="28.8" fill="#1a1a1a" stroke="#1a1a1a" stroke-width="0.35">DMSN-PFRT + MMP2 inhibitor</text>
<text transform="translate(342.42 854.6) scale(1.080 1)" font-size="12.6" fill="#222" letter-spacing="1.67" font-weight="bold">FITC</text>
<text transform="translate(378.61 868.3) scale(1.045 1)" font-size="28.6" fill="#1a1a1a" stroke="#1a1a1a" stroke-width="0.35">DMSN-PFRT</text>
<rect x="51.6" y="569.8" width="794.4" height="261.5" fill="#000"/>
<rect x="51.6" y="891" width="794.4" height="259.3" fill="#000"/>
<defs>
<filter id="bl1" x="-30%" y="-30%" width="160%" height="160%"><feGaussianBlur stdDeviation="1"/></filter>
<filter id="bl1_5" x="-30%" y="-30%" width="160%" height="160%"><feGaussianBlur stdDeviation="1.5"/></filter>
<filter id="bl2" x="-30%" y="-30%" width="160%" height="160%"><feGaussianBlur stdDeviation="2"/></filter>
<filter id="bl2_5" x="-30%" y="-30%" width="160%" height="160%"><feGaussianBlur stdDeviation="2.5"/></filter>
<filter id="bl3" x="-30%" y="-30%" width="160%" height="160%"><feGaussianBlur stdDeviation="3"/></filter>
<filter id="bl4" x="-30%" y="-30%" width="160%" height="160%"><feGaussianBlur stdDeviation="4"/></filter>
<filter id="bl5" x="-30%" y="-30%" width="160%" height="160%"><feGaussianBlur stdDeviation="5"/></filter>
<filter id="rt0" x="0" y="0" width="100%" height="100%" filterUnits="objectBoundingBox" color-interpolation-filters="sRGB">
<feTurbulence type="fractalNoise" baseFrequency="0.07" numOctaves="2" seed="7" result="n"/>
<feDisplacementMap in="SourceGraphic" in2="n" scale="7" xChannelSelector="R" yChannelSelector="G" result="d"/>
<feTurbulence type="fractalNoise" baseFrequency="0.13" numOctaves="2" seed="31" result="n2"/>
<feColorMatrix in="n2" type="matrix" values="3 0 0 0 -1  3 0 0 0 -1  3 0 0 0 -1  3 0 0 0 -1" result="m"/>
<feComposite in="d" in2="m" operator="arithmetic" k1="0.5" k2="0.75" k3="0" k4="0" result="c"/>
<feGaussianBlur in="c" stdDeviation="1.5"/>
</filter>
<filter id="gt0" x="0" y="0" width="100%" height="100%" filterUnits="objectBoundingBox" color-interpolation-filters="sRGB">
<feTurbulence type="fractalNoise" baseFrequency="0.1" numOctaves="2" seed="11" result="n"/>
<feDisplacementMap in="SourceGraphic" in2="n" scale="6" xChannelSelector="R" yChannelSelector="G" result="d"/>
<feTurbulence type="fractalNoise" baseFrequency="0.2" numOctaves="1" seed="51" result="n2"/>
<feColorMatrix in="n2" type="matrix" values="4 0 0 0 -1.5  4 0 0 0 -1.5  4 0 0 0 -1.5  4 0 0 0 -1.5" result="m"/>
<feComposite in="d" in2="m" operator="arithmetic" k1="1.2" k2="0.4" k3="0" k4="0" result="c"/>
<feGaussianBlur in="c" stdDeviation="0.9"/>
</filter>
<filter id="rt1" x="0" y="0" width="100%" height="100%" filterUnits="objectBoundingBox" color-interpolation-filters="sRGB">
<feTurbulence type="fractalNoise" baseFrequency="0.07" numOctaves="2" seed="10" result="n"/>
<feDisplacementMap in="SourceGraphic" in2="n" scale="7" xChannelSelector="R" yChannelSelector="G" result="d"/>
<feTurbulence type="fractalNoise" baseFrequency="0.13" numOctaves="2" seed="32" result="n2"/>
<feColorMatrix in="n2" type="matrix" values="3 0 0 0 -1  3 0 0 0 -1  3 0 0 0 -1  3 0 0 0 -1" result="m"/>
<feComposite in="d" in2="m" operator="arithmetic" k1="0.5" k2="0.75" k3="0" k4="0" result="c"/>
<feGaussianBlur in="c" stdDeviation="1.5"/>
</filter>
<filter id="gt1" x="0" y="0" width="100%" height="100%" filterUnits="objectBoundingBox" color-interpolation-filters="sRGB">
<feTurbulence type="fractalNoise" baseFrequency="0.1" numOctaves="2" seed="16" result="n"/>
<feDisplacementMap in="SourceGraphic" in2="n" scale="6" xChannelSelector="R" yChannelSelector="G" result="d"/>
<feTurbulence type="fractalNoise" baseFrequency="0.2" numOctaves="1" seed="52" result="n2"/>
<feColorMatrix in="n2" type="matrix" values="4 0 0 0 -1.5  4 0 0 0 -1.5  4 0 0 0 -1.5  4 0 0 0 -1.5" result="m"/>
<feComposite in="d" in2="m" operator="arithmetic" k1="1.2" k2="0.4" k3="0" k4="0" result="c"/>
<feGaussianBlur in="c" stdDeviation="0.9"/>
</filter>
<filter id="rt2" x="0" y="0" width="100%" height="100%" filterUnits="objectBoundingBox" color-interpolation-filters="sRGB">
<feTurbulence type="fractalNoise" baseFrequency="0.07" numOctaves="2" seed="13" result="n"/>
<feDisplacementMap in="SourceGraphic" in2="n" scale="7" xChannelSelector="R" yChannelSelector="G" result="d"/>
<feTurbulence type="fractalNoise" baseFrequency="0.13" numOctaves="2" seed="33" result="n2"/>
<feColorMatrix in="n2" type="matrix" values="3 0 0 0 -1  3 0 0 0 -1  3 0 0 0 -1  3 0 0 0 -1" result="m"/>
<feComposite in="d" in2="m" operator="arithmetic" k1="0.5" k2="0.75" k3="0" k4="0" result="c"/>
<feGaussianBlur in="c" stdDeviation="1.5"/>
</filter>
<filter id="gt2" x="0" y="0" width="100%" height="100%" filterUnits="objectBoundingBox" color-interpolation-filters="sRGB">
<feTurbulence type="fractalNoise" baseFrequency="0.1" numOctaves="2" seed="21" result="n"/>
<feDisplacementMap in="SourceGraphic" in2="n" scale="6" xChannelSelector="R" yChannelSelector="G" result="d"/>
<feTurbulence type="fractalNoise" baseFrequency="0.2" numOctaves="1" seed="53" result="n2"/>
<feColorMatrix in="n2" type="matrix" values="4 0 0 0 -1.5  4 0 0 0 -1.5  4 0 0 0 -1.5  4 0 0 0 -1.5" result="m"/>
<feComposite in="d" in2="m" operator="arithmetic" k1="1.2" k2="0.4" k3="0" k4="0" result="c"/>
<feGaussianBlur in="c" stdDeviation="0.9"/>
</filter>
<filter id="rt3" x="0" y="0" width="100%" height="100%" filterUnits="objectBoundingBox" color-interpolation-filters="sRGB">
<feTurbulence type="fractalNoise" baseFrequency="0.05" numOctaves="2" seed="16" result="n"/>
<feDisplacementMap in="SourceGraphic" in2="n" scale="6" xChannelSelector="R" yChannelSelector="G" result="d"/>
<feTurbulence type="fractalNoise" baseFrequency="0.1" numOctaves="2" seed="34" result="n2"/>
<feColorMatrix in="n2" type="matrix" values="2.4 0 0 0 -0.7  2.4 0 0 0 -0.7  2.4 0 0 0 -0.7  2.4 0 0 0 -0.7" result="m"/>
<feComposite in="d" in2="m" operator="arithmetic" k1="0.25" k2="0.88" k3="0" k4="0" result="c"/>
<feGaussianBlur in="c" stdDeviation="1.4"/>
</filter>
<filter id="gt3" x="0" y="0" width="100%" height="100%" filterUnits="objectBoundingBox" color-interpolation-filters="sRGB">
<feTurbulence type="fractalNoise" baseFrequency="0.1" numOctaves="2" seed="26" result="n"/>
<feDisplacementMap in="SourceGraphic" in2="n" scale="6" xChannelSelector="R" yChannelSelector="G" result="d"/>
<feTurbulence type="fractalNoise" baseFrequency="0.2" numOctaves="1" seed="54" result="n2"/>
<feColorMatrix in="n2" type="matrix" values="4 0 0 0 -1.5  4 0 0 0 -1.5  4 0 0 0 -1.5  4 0 0 0 -1.5" result="m"/>
<feComposite in="d" in2="m" operator="arithmetic" k1="1.2" k2="0.4" k3="0" k4="0" result="c"/>
<feGaussianBlur in="c" stdDeviation="0.9"/>
</filter>
<filter id="rt4" x="0" y="0" width="100%" height="100%" filterUnits="objectBoundingBox" color-interpolation-filters="sRGB">
<feTurbulence type="fractalNoise" baseFrequency="0.05" numOctaves="2" seed="19" result="n"/>
<feDisplacementMap in="SourceGraphic" in2="n" scale="6" xChannelSelector="R" yChannelSelector="G" result="d"/>
<feTurbulence type="fractalNoise" baseFrequency="0.1" numOctaves="2" seed="35" result="n2"/>
<feColorMatrix in="n2" type="matrix" values="2.4 0 0 0 -0.7  2.4 0 0 0 -0.7  2.4 0 0 0 -0.7  2.4 0 0 0 -0.7" result="m"/>
<feComposite in="d" in2="m" operator="arithmetic" k1="0.25" k2="0.88" k3="0" k4="0" result="c"/>
<feGaussianBlur in="c" stdDeviation="1.4"/>
</filter>
<filter id="gt4" x="0" y="0" width="100%" height="100%" filterUnits="objectBoundingBox" color-interpolation-filters="sRGB">
<feTurbulence type="fractalNoise" baseFrequency="0.1" numOctaves="2" seed="31" result="n"/>
<feDisplacementMap in="SourceGraphic" in2="n" scale="6" xChannelSelector="R" yChannelSelector="G" result="d"/>
<feTurbulence type="fractalNoise" baseFrequency="0.2" numOctaves="1" seed="55" result="n2"/>
<feColorMatrix in="n2" type="matrix" values="4 0 0 0 -1.5  4 0 0 0 -1.5  4 0 0 0 -1.5  4 0 0 0 -1.5" result="m"/>
<feComposite in="d" in2="m" operator="arithmetic" k1="1.2" k2="0.4" k3="0" k4="0" result="c"/>
<feGaussianBlur in="c" stdDeviation="0.9"/>
</filter>
<filter id="rt5" x="0" y="0" width="100%" height="100%" filterUnits="objectBoundingBox" color-interpolation-filters="sRGB">
<feTurbulence type="fractalNoise" baseFrequency="0.05" numOctaves="2" seed="22" result="n"/>
<feDisplacementMap in="SourceGraphic" in2="n" scale="6" xChannelSelector="R" yChannelSelector="G" result="d"/>
<feTurbulence type="fractalNoise" baseFrequency="0.1" numOctaves="2" seed="36" result="n2"/>
<feColorMatrix in="n2" type="matrix" values="2.4 0 0 0 -0.7  2.4 0 0 0 -0.7  2.4 0 0 0 -0.7  2.4 0 0 0 -0.7" result="m"/>
<feComposite in="d" in2="m" operator="arithmetic" k1="0.25" k2="0.88" k3="0" k4="0" result="c"/>
<feGaussianBlur in="c" stdDeviation="1.4"/>
</filter>
<filter id="gt5" x="0" y="0" width="100%" height="100%" filterUnits="objectBoundingBox" color-interpolation-filters="sRGB">
<feTurbulence type="fractalNoise" baseFrequency="0.1" numOctaves="2" seed="36" result="n"/>
<feDisplacementMap in="SourceGraphic" in2="n" scale="6" xChannelSelector="R" yChannelSelector="G" result="d"/>
<feTurbulence type="fractalNoise" baseFrequency="0.2" numOctaves="1" seed="56" result="n2"/>
<feColorMatrix in="n2" type="matrix" values="4 0 0 0 -1.5  4 0 0 0 -1.5  4 0 0 0 -1.5  4 0 0 0 -1.5" result="m"/>
<feComposite in="d" in2="m" operator="arithmetic" k1="1.2" k2="0.4" k3="0" k4="0" result="c"/>
<feGaussianBlur in="c" stdDeviation="0.9"/>
</filter>
<clipPath id="cc0_0"><rect x="0" y="0" width="131.6" height="130.2"/></clipPath>
<clipPath id="cc0_1"><rect x="0" y="0" width="131.6" height="130.3"/></clipPath>
<clipPath id="cc0_2"><rect x="0" y="0" width="131.6" height="132"/></clipPath>
<clipPath id="cc0_3"><rect x="0" y="0" width="131.6" height="125.8"/></clipPath>
<clipPath id="cc1_0"><rect x="0" y="0" width="131.6" height="130.2"/></clipPath>
<clipPath id="cc1_1"><rect x="0" y="0" width="131.6" height="130.3"/></clipPath>
<clipPath id="cc1_2"><rect x="0" y="0" width="131.6" height="132"/></clipPath>
<clipPath id="cc1_3"><rect x="0" y="0" width="131.6" height="125.8"/></clipPath>
<clipPath id="cc2_0"><rect x="0" y="0" width="132.4" height="130.2"/></clipPath>
<clipPath id="cc2_1"><rect x="0" y="0" width="132.4" height="130.3"/></clipPath>
<clipPath id="cc2_2"><rect x="0" y="0" width="132.4" height="132"/></clipPath>
<clipPath id="cc2_3"><rect x="0" y="0" width="132.4" height="125.8"/></clipPath>
<clipPath id="cc3_0"><rect x="0" y="0" width="130.8" height="130.2"/></clipPath>
<clipPath id="cc3_1"><rect x="0" y="0" width="130.8" height="130.3"/></clipPath>
<clipPath id="cc3_2"><rect x="0" y="0" width="130.8" height="132"/></clipPath>
<clipPath id="cc3_3"><rect x="0" y="0" width="130.8" height="125.8"/></clipPath>
<clipPath id="cc4_0"><rect x="0" y="0" width="131.6" height="130.2"/></clipPath>
<clipPath id="cc4_1"><rect x="0" y="0" width="131.6" height="130.3"/></clipPath>
<clipPath id="cc4_2"><rect x="0" y="0" width="131.6" height="132"/></clipPath>
<clipPath id="cc4_3"><rect x="0" y="0" width="131.6" height="125.8"/></clipPath>
<clipPath id="cc5_0"><rect x="0" y="0" width="130.4" height="130.2"/></clipPath>
<clipPath id="cc5_1"><rect x="0" y="0" width="130.4" height="130.3"/></clipPath>
<clipPath id="cc5_2"><rect x="0" y="0" width="130.4" height="132"/></clipPath>
<clipPath id="cc5_3"><rect x="0" y="0" width="130.4" height="125.8"/></clipPath>
</defs>
<g transform="translate(51.6 569.8)" clip-path="url(#cc0_0)">
<g filter="url(#rt0)"><rect x="0" y="0" width="131.6" height="130.2" fill="#000" fill-opacity="0.01"/>
<path d="M65.7,26.3 C70.9,25.6 77.3,26.9 82.3,28.0 C87.2,29.1 92.8,29.6 95.5,33.0 C98.3,36.3 98.0,42.8 98.9,47.9 C99.7,53.0 101.2,59.1 100.5,63.7 C99.8,68.2 96.9,72.0 94.7,75.3 C92.5,78.6 90.1,80.8 87.2,83.6 C84.3,86.3 81.2,89.7 77.3,91.9 C73.4,94.1 68.2,96.6 64.0,96.9 C59.9,97.1 55.4,96.0 52.4,93.5 C49.3,91.0 48.8,84.7 45.7,81.9 C42.7,79.2 37.3,79.4 34.1,76.9 C30.9,74.5 27.2,70.9 26.6,67.0 C26.1,63.1 28.9,57.9 30.8,53.7 C32.7,49.6 34.9,45.7 38.3,42.1 C41.6,38.5 46.2,34.7 50.7,32.1 C55.3,29.5 60.4,27.0 65.7,26.3Z" fill="#2c0000" stroke="#780000" stroke-width="17" filter="url(#bl4)"/>
<path d="M65.7,26.3 C70.9,25.6 77.3,26.9 82.3,28.0 C87.2,29.1 92.8,29.6 95.5,33.0 C98.3,36.3 98.0,42.8 98.9,47.9 C99.7,53.0 101.2,59.1 100.5,63.7 C99.8,68.2 96.9,72.0 94.7,75.3 C92.5,78.6 90.1,80.8 87.2,83.6 C84.3,86.3 81.2,89.7 77.3,91.9 C73.4,94.1 68.2,96.6 64.0,96.9 C59.9,97.1 55.4,96.0 52.4,93.5 C49.3,91.0 48.8,84.7 45.7,81.9 C42.7,79.2 37.3,79.4 34.1,76.9 C30.9,74.5 27.2,70.9 26.6,67.0 C26.1,63.1 28.9,57.9 30.8,53.7 C32.7,49.6 34.9,45.7 38.3,42.1 C41.6,38.5 46.2,34.7 50.7,32.1 C55.3,29.5 60.4,27.0 65.7,26.3Z" fill="none" stroke="#a80000" stroke-width="9" stroke-linejoin="round" filter="url(#bl3)" opacity="0.8"/>
<path d="M27.0,54.0 C28.2,52.2 31.0,46.3 34.0,43.0 C37.0,39.7 41.3,36.7 45.0,34.0 C48.7,31.3 52.5,29.2 56.0,27.0 C59.5,24.8 62.3,21.5 66.0,21.0 C69.7,20.5 74.0,23.2 78.0,24.0 C82.0,24.8 86.2,25.7 90.0,26.0 C93.8,26.3 99.2,26.0 101.0,26.0" fill="none" stroke="#f80000" stroke-width="8" stroke-linecap="round" filter="url(#bl2_5)" opacity="0.85"/>
<path d="M101.0,30.0 C101.3,32.5 102.2,39.7 103.0,45.0 C103.8,50.3 106.8,56.8 106.0,62.0 C105.2,67.2 101.0,72.0 98.0,76.0 C95.0,80.0 89.7,84.3 88.0,86.0" fill="none" stroke="#d80000" stroke-width="6" stroke-linecap="round" filter="url(#bl2_5)" opacity="0.8"/>
<ellipse cx="61" cy="97.5" rx="19" ry="6.5" fill="#ff0000" filter="url(#bl2_5)"/>
<ellipse cx="55.5" cy="85" rx="8" ry="6" fill="#ff0808" filter="url(#bl2)"/>
<g filter="url(#bl1_5)" fill="#ff1010"><circle cx="70" cy="82" r="2.5"/><circle cx="77" cy="80" r="2.5"/><circle cx="84" cy="81" r="2.5"/><circle cx="91" cy="78" r="3"/><circle cx="96" cy="73" r="3"/><circle cx="100" cy="66" r="2.5"/><circle cx="97" cy="43" r="3.5"/><circle cx="89.5" cy="47.5" r="2.5"/><circle cx="100" cy="28" r="3"/></g>
<g filter="url(#bl1)" fill="#d00808" opacity="0.9"><circle cx="36" cy="18" r="3"/><circle cx="54" cy="8" r="2"/><circle cx="71" cy="8" r="2"/><circle cx="92" cy="14" r="1.8"/></g>
</g></g>
<g transform="translate(184.4 569.8)" clip-path="url(#cc1_0)">
<g filter="url(#rt1)"><rect x="0" y="0" width="131.6" height="130.2" fill="#000" fill-opacity="0.01"/>
<path d="M65.7,26.3 C70.9,25.6 77.3,26.9 82.3,28.0 C87.2,29.1 92.8,29.6 95.5,33.0 C98.3,36.3 98.0,42.8 98.9,47.9 C99.7,53.0 101.2,59.1 100.5,63.7 C99.8,68.2 96.9,72.0 94.7,75.3 C92.5,78.6 90.1,80.8 87.2,83.6 C84.3,86.3 81.2,89.7 77.3,91.9 C73.4,94.1 68.2,96.6 64.0,96.9 C59.9,97.1 55.4,96.0 52.4,93.5 C49.3,91.0 48.8,84.7 45.7,81.9 C42.7,79.2 37.3,79.4 34.1,76.9 C30.9,74.5 27.2,70.9 26.6,67.0 C26.1,63.1 28.9,57.9 30.8,53.7 C32.7,49.6 34.9,45.7 38.3,42.1 C41.6,38.5 46.2,34.7 50.7,32.1 C55.3,29.5 60.4,27.0 65.7,26.3Z" fill="#2c0000" stroke="#780000" stroke-width="17" filter="url(#bl4)"/>
<path d="M65.7,26.3 C70.9,25.6 77.3,26.9 82.3,28.0 C87.2,29.1 92.8,29.6 95.5,33.0 C98.3,36.3 98.0,42.8 98.9,47.9 C99.7,53.0 101.2,59.1 100.5,63.7 C99.8,68.2 96.9,72.0 94.7,75.3 C92.5,78.6 90.1,80.8 87.2,83.6 C84.3,86.3 81.2,89.7 77.3,91.9 C73.4,94.1 68.2,96.6 64.0,96.9 C59.9,97.1 55.4,96.0 52.4,93.5 C49.3,91.0 48.8,84.7 45.7,81.9 C42.7,79.2 37.3,79.4 34.1,76.9 C30.9,74.5 27.2,70.9 26.6,67.0 C26.1,63.1 28.9,57.9 30.8,53.7 C32.7,49.6 34.9,45.7 38.3,42.1 C41.6,38.5 46.2,34.7 50.7,32.1 C55.3,29.5 60.4,27.0 65.7,26.3Z" fill="none" stroke="#a80000" stroke-width="9" stroke-linejoin="round" filter="url(#bl3)" opacity="0.8"/>
<path d="M27.0,54.0 C28.2,52.2 31.0,46.3 34.0,43.0 C37.0,39.7 41.3,36.7 45.0,34.0 C48.7,31.3 52.5,29.2 56.0,27.0 C59.5,24.8 62.3,21.5 66.0,21.0 C69.7,20.5 74.0,23.2 78.0,24.0 C82.0,24.8 86.2,25.7 90.0,26.0 C93.8,26.3 99.2,26.0 101.0,26.0" fill="none" stroke="#f80000" stroke-width="8" stroke-linecap="round" filter="url(#bl2_5)" opacity="0.95"/>
<path d="M101.0,30.0 C101.3,32.5 102.2,39.7 103.0,45.0 C103.8,50.3 106.8,56.8 106.0,62.0 C105.2,67.2 101.0,72.0 98.0,76.0 C95.0,80.0 89.7,84.3 88.0,86.0" fill="none" stroke="#d80000" stroke-width="6" stroke-linecap="round" filter="url(#bl2_5)" opacity="0.8"/>
<ellipse cx="61" cy="97.5" rx="19" ry="6.5" fill="#ff0000" filter="url(#bl2_5)"/>
<ellipse cx="55.5" cy="85" rx="8" ry="6" fill="#ff0808" filter="url(#bl2)"/>
<g filter="url(#bl1_5)" fill="#ff1010"><circle cx="70" cy="82" r="2.5"/><circle cx="77" cy="80" r="2.5"/><circle cx="84" cy="81" r="2.5"/><circle cx="91" cy="78" r="3"/><circle cx="96" cy="73" r="3"/><circle cx="100" cy="66" r="2.5"/><circle cx="97" cy="43" r="3.5"/><circle cx="89.5" cy="47.5" r="2.5"/><circle cx="100" cy="28" r="3"/></g>
<g filter="url(#bl1)" fill="#d00808" opacity="0.9"><circle cx="19" cy="22" r="3"/><circle cx="49" cy="18" r="2"/><circle cx="62" cy="8" r="2"/><circle cx="7" cy="46" r="1.8"/></g>
</g></g>
<g transform="translate(317.2 569.8)" clip-path="url(#cc2_0)">
<g filter="url(#rt2)"><rect x="0" y="0" width="132.4" height="130.2" fill="#000" fill-opacity="0.01"/>
<path d="M65.7,26.3 C70.9,25.6 77.3,26.9 82.3,28.0 C87.2,29.1 92.8,29.6 95.5,33.0 C98.3,36.3 98.0,42.8 98.9,47.9 C99.7,53.0 101.2,59.1 100.5,63.7 C99.8,68.2 96.9,72.0 94.7,75.3 C92.5,78.6 90.1,80.8 87.2,83.6 C84.3,86.3 81.2,89.7 77.3,91.9 C73.4,94.1 68.2,96.6 64.0,96.9 C59.9,97.1 55.4,96.0 52.4,93.5 C49.3,91.0 48.8,84.7 45.7,81.9 C42.7,79.2 37.3,79.4 34.1,76.9 C30.9,74.5 27.2,70.9 26.6,67.0 C26.1,63.1 28.9,57.9 30.8,53.7 C32.7,49.6 34.9,45.7 38.3,42.1 C41.6,38.5 46.2,34.7 50.7,32.1 C55.3,29.5 60.4,27.0 65.7,26.3Z" fill="#2c0000" stroke="#780000" stroke-width="17" filter="url(#bl4)"/>
<path d="M65.7,26.3 C70.9,25.6 77.3,26.9 82.3,28.0 C87.2,29.1 92.8,29.6 95.5,33.0 C98.3,36.3 98.0,42.8 98.9,47.9 C99.7,53.0 101.2,59.1 100.5,63.7 C99.8,68.2 96.9,72.0 94.7,75.3 C92.5,78.6 90.1,80.8 87.2,83.6 C84.3,86.3 81.2,89.7 77.3,91.9 C73.4,94.1 68.2,96.6 64.0,96.9 C59.9,97.1 55.4,96.0 52.4,93.5 C49.3,91.0 48.8,84.7 45.7,81.9 C42.7,79.2 37.3,79.4 34.1,76.9 C30.9,74.5 27.2,70.9 26.6,67.0 C26.1,63.1 28.9,57.9 30.8,53.7 C32.7,49.6 34.9,45.7 38.3,42.1 C41.6,38.5 46.2,34.7 50.7,32.1 C55.3,29.5 60.4,27.0 65.7,26.3Z" fill="none" stroke="#a80000" stroke-width="9" stroke-linejoin="round" filter="url(#bl3)" opacity="0.8"/>
<path d="M27.0,54.0 C28.2,52.2 31.0,46.3 34.0,43.0 C37.0,39.7 41.3,36.7 45.0,34.0 C48.7,31.3 52.5,29.2 56.0,27.0 C59.5,24.8 62.3,21.5 66.0,21.0 C69.7,20.5 74.0,23.2 78.0,24.0 C82.0,24.8 86.2,25.7 90.0,26.0 C93.8,26.3 99.2,26.0 101.0,26.0" fill="none" stroke="#f80000" stroke-width="8" stroke-linecap="round" filter="url(#bl2_5)" opacity="1"/>
<path d="M101.0,30.0 C101.3,32.5 102.2,39.7 103.0,45.0 C103.8,50.3 106.8,56.8 106.0,62.0 C105.2,67.2 101.0,72.0 98.0,76.0 C95.0,80.0 89.7,84.3 88.0,86.0" fill="none" stroke="#d80000" stroke-width="6" stroke-linecap="round" filter="url(#bl2_5)" opacity="0.8"/>
<ellipse cx="61" cy="97.5" rx="19" ry="6.5" fill="#ff0000" filter="url(#bl2_5)"/>
<ellipse cx="55.5" cy="85" rx="8" ry="6" fill="#ff0808" filter="url(#bl2)"/>
<g filter="url(#bl1_5)" fill="#ff1010"><circle cx="70" cy="82" r="2.5"/><circle cx="77" cy="80" r="2.5"/><circle cx="84" cy="81" r="2.5"/><circle cx="91" cy="78" r="3"/><circle cx="96" cy="73" r="3"/><circle cx="100" cy="66" r="2.5"/><circle cx="97" cy="43" r="3.5"/><circle cx="89.5" cy="47.5" r="2.5"/><circle cx="100" cy="28" r="3"/></g>
<g filter="url(#bl1)" fill="#d00808" opacity="0.9"><circle cx="7" cy="27" r="3"/><circle cx="46" cy="19" r="2.8"/><circle cx="38" cy="20" r="1.8"/><circle cx="16" cy="82" r="1.8"/></g>
</g></g>
<g transform="translate(450.8 569.8)" clip-path="url(#cc3_0)">
<g filter="url(#rt3)"><rect x="0" y="0" width="130.8" height="130.2" fill="#000" fill-opacity="0.01"/>
<path d="M65.7,25.5 C70.8,24.9 77.4,26.2 82.3,27.1 C87.1,28.1 92.1,27.8 94.7,31.3 C97.3,34.7 97.1,42.6 98.0,47.9 C99.0,53.1 101.2,58.1 100.5,62.8 C99.8,67.5 96.4,72.4 93.9,76.1 C91.4,79.8 88.3,82.1 85.6,85.2 C82.8,88.4 81.0,93.1 77.3,95.2 C73.5,97.3 67.6,97.7 63.2,97.7 C58.7,97.7 53.8,97.3 50.7,95.2 C47.7,93.1 47.8,87.9 44.9,85.2 C42.0,82.6 36.6,82.5 33.3,79.4 C30.0,76.4 25.5,71.5 25.0,67.0 C24.4,62.4 27.6,56.7 30.0,52.0 C32.3,47.3 35.5,42.4 39.1,38.8 C42.7,35.2 47.1,32.7 51.5,30.5 C56.0,28.2 60.5,26.0 65.7,25.5Z" fill="#3a0000" stroke="#700000" stroke-width="16" filter="url(#bl4)"/>
<path d="M65.7,25.5 C70.8,24.9 77.4,26.2 82.3,27.1 C87.1,28.1 92.1,27.8 94.7,31.3 C97.3,34.7 97.1,42.6 98.0,47.9 C99.0,53.1 101.2,58.1 100.5,62.8 C99.8,67.5 96.4,72.4 93.9,76.1 C91.4,79.8 88.3,82.1 85.6,85.2 C82.8,88.4 81.0,93.1 77.3,95.2 C73.5,97.3 67.6,97.7 63.2,97.7 C58.7,97.7 53.8,97.3 50.7,95.2 C47.7,93.1 47.8,87.9 44.9,85.2 C42.0,82.6 36.6,82.5 33.3,79.4 C30.0,76.4 25.5,71.5 25.0,67.0 C24.4,62.4 27.6,56.7 30.0,52.0 C32.3,47.3 35.5,42.4 39.1,38.8 C42.7,35.2 47.1,32.7 51.5,30.5 C56.0,28.2 60.5,26.0 65.7,25.5Z" fill="none" stroke="#f00000" stroke-width="11.5" stroke-linejoin="round" filter="url(#bl3)" opacity="0.95"/>
<path d="M33.3,79.4 C31.9,77.4 25.5,71.5 25.0,67.0 C24.4,62.4 27.6,56.7 30.0,52.0 C32.3,47.3 35.5,42.4 39.1,38.8 C42.7,35.2 47.1,32.7 51.5,30.5 C56.0,28.2 60.5,26.0 65.7,25.5 C70.8,24.9 77.4,26.2 82.3,27.1 C87.1,28.1 92.6,30.6 94.7,31.3" fill="none" stroke="#ff0808" stroke-width="6" stroke-linecap="round" filter="url(#bl2)" opacity="0.85"/>
<ellipse cx="66" cy="97.5" rx="22" ry="7.5" fill="#ff0000" filter="url(#bl2_5)"/>
<ellipse cx="60" cy="85" rx="10" ry="4.5" fill="#ff0000" filter="url(#bl2_5)" opacity="0.8"/>
<circle cx="55" cy="55" r="2.3" fill="#e00808" filter="url(#bl1)" opacity="0.8"/>
</g></g>
<g transform="translate(582.8 569.8)" clip-path="url(#cc4_0)">
<g filter="url(#rt4)"><rect x="0" y="0" width="131.6" height="130.2" fill="#000" fill-opacity="0.01"/>
<path d="M65.7,25.5 C70.8,24.9 77.4,26.2 82.3,27.1 C87.1,28.1 92.1,27.8 94.7,31.3 C97.3,34.7 97.1,42.6 98.0,47.9 C99.0,53.1 101.2,58.1 100.5,62.8 C99.8,67.5 96.4,72.4 93.9,76.1 C91.4,79.8 88.3,82.1 85.6,85.2 C82.8,88.4 81.0,93.1 77.3,95.2 C73.5,97.3 67.6,97.7 63.2,97.7 C58.7,97.7 53.8,97.3 50.7,95.2 C47.7,93.1 47.8,87.9 44.9,85.2 C42.0,82.6 36.6,82.5 33.3,79.4 C30.0,76.4 25.5,71.5 25.0,67.0 C24.4,62.4 27.6,56.7 30.0,52.0 C32.3,47.3 35.5,42.4 39.1,38.8 C42.7,35.2 47.1,32.7 51.5,30.5 C56.0,28.2 60.5,26.0 65.7,25.5Z" fill="#3a0000" stroke="#700000" stroke-width="16" filter="url(#bl4)"/>
<path d="M65.7,25.5 C70.8,24.9 77.4,26.2 82.3,27.1 C87.1,28.1 92.1,27.8 94.7,31.3 C97.3,34.7 97.1,42.6 98.0,47.9 C99.0,53.1 101.2,58.1 100.5,62.8 C99.8,67.5 96.4,72.4 93.9,76.1 C91.4,79.8 88.3,82.1 85.6,85.2 C82.8,88.4 81.0,93.1 77.3,95.2 C73.5,97.3 67.6,97.7 63.2,97.7 C58.7,97.7 53.8,97.3 50.7,95.2 C47.7,93.1 47.8,87.9 44.9,85.2 C42.0,82.6 36.6,82.5 33.3,79.4 C30.0,76.4 25.5,71.5 25.0,67.0 C24.4,62.4 27.6,56.7 30.0,52.0 C32.3,47.3 35.5,42.4 39.1,38.8 C42.7,35.2 47.1,32.7 51.5,30.5 C56.0,28.2 60.5,26.0 65.7,25.5Z" fill="none" stroke="#f00000" stroke-width="11.5" stroke-linejoin="round" filter="url(#bl3)" opacity="0.95"/>
<path d="M33.3,79.4 C31.9,77.4 25.5,71.5 25.0,67.0 C24.4,62.4 27.6,56.7 30.0,52.0 C32.3,47.3 35.5,42.4 39.1,38.8 C42.7,35.2 47.1,32.7 51.5,30.5 C56.0,28.2 60.5,26.0 65.7,25.5 C70.8,24.9 77.4,26.2 82.3,27.1 C87.1,28.1 92.6,30.6 94.7,31.3" fill="none" stroke="#ff0808" stroke-width="6" stroke-linecap="round" filter="url(#bl2)" opacity="0.85"/>
<ellipse cx="66" cy="97.5" rx="22" ry="7.5" fill="#ff0000" filter="url(#bl2_5)"/>
<ellipse cx="60" cy="85" rx="10" ry="4.5" fill="#ff0000" filter="url(#bl2_5)" opacity="0.8"/>
<circle cx="56" cy="55" r="2.3" fill="#e00808" filter="url(#bl1)" opacity="0.8"/>
</g></g>
<g transform="translate(715.6 569.8)" clip-path="url(#cc5_0)">
<g filter="url(#rt5)"><rect x="0" y="0" width="130.4" height="130.2" fill="#000" fill-opacity="0.01"/>
<path d="M65.7,25.5 C70.8,24.9 77.4,26.2 82.3,27.1 C87.1,28.1 92.1,27.8 94.7,31.3 C97.3,34.7 97.1,42.6 98.0,47.9 C99.0,53.1 101.2,58.1 100.5,62.8 C99.8,67.5 96.4,72.4 93.9,76.1 C91.4,79.8 88.3,82.1 85.6,85.2 C82.8,88.4 81.0,93.1 77.3,95.2 C73.5,97.3 67.6,97.7 63.2,97.7 C58.7,97.7 53.8,97.3 50.7,95.2 C47.7,93.1 47.8,87.9 44.9,85.2 C42.0,82.6 36.6,82.5 33.3,79.4 C30.0,76.4 25.5,71.5 25.0,67.0 C24.4,62.4 27.6,56.7 30.0,52.0 C32.3,47.3 35.5,42.4 39.1,38.8 C42.7,35.2 47.1,32.7 51.5,30.5 C56.0,28.2 60.5,26.0 65.7,25.5Z" fill="#3a0000" stroke="#700000" stroke-width="16" filter="url(#bl4)"/>
<path d="M65.7,25.5 C70.8,24.9 77.4,26.2 82.3,27.1 C87.1,28.1 92.1,27.8 94.7,31.3 C97.3,34.7 97.1,42.6 98.0,47.9 C99.0,53.1 101.2,58.1 100.5,62.8 C99.8,67.5 96.4,72.4 93.9,76.1 C91.4,79.8 88.3,82.1 85.6,85.2 C82.8,88.4 81.0,93.1 77.3,95.2 C73.5,97.3 67.6,97.7 63.2,97.7 C58.7,97.7 53.8,97.3 50.7,95.2 C47.7,93.1 47.8,87.9 44.9,85.2 C42.0,82.6 36.6,82.5 33.3,79.4 C30.0,76.4 25.5,71.5 25.0,67.0 C24.4,62.4 27.6,56.7 30.0,52.0 C32.3,47.3 35.5,42.4 39.1,38.8 C42.7,35.2 47.1,32.7 51.5,30.5 C56.0,28.2 60.5,26.0 65.7,25.5Z" fill="none" stroke="#f00000" stroke-width="11.5" stroke-linejoin="round" filter="url(#bl3)" opacity="0.95"/>
<path d="M33.3,79.4 C31.9,77.4 25.5,71.5 25.0,67.0 C24.4,62.4 27.6,56.7 30.0,52.0 C32.3,47.3 35.5,42.4 39.1,38.8 C42.7,35.2 47.1,32.7 51.5,30.5 C56.0,28.2 60.5,26.0 65.7,25.5 C70.8,24.9 77.4,26.2 82.3,27.1 C87.1,28.1 92.6,30.6 94.7,31.3" fill="none" stroke="#ff0808" stroke-width="6" stroke-linecap="round" filter="url(#bl2)" opacity="0.85"/>
<ellipse cx="66" cy="97.5" rx="22" ry="7.5" fill="#ff0000" filter="url(#bl2_5)"/>
<ellipse cx="60" cy="85" rx="10" ry="4.5" fill="#ff0000" filter="url(#bl2_5)" opacity="0.8"/>
<circle cx="56" cy="55" r="2.3" fill="#e00808" filter="url(#bl1)" opacity="0.8"/>
</g></g>
<g transform="translate(51.6 701)" clip-path="url(#cc0_1)">
<g filter="url(#gt0)"><rect x="0" y="0" width="131.6" height="130.3" fill="#000" fill-opacity="0.01"/>
<path d="M28.0,53.0 C29.3,51.3 32.7,45.7 36.0,43.0 C39.3,40.3 44.3,39.3 48.0,37.0 C51.7,34.7 55.0,31.5 58.0,29.0 C61.0,26.5 64.7,23.2 66.0,22.0" fill="none" stroke="#18c020" stroke-width="4.5" stroke-linecap="round" stroke-dasharray="7 3 4 2.5" filter="url(#bl1_5)" opacity="0.55"/>
<path d="M70.0,36.0 C71.3,35.0 75.3,31.7 78.0,30.0 C80.7,28.3 83.3,26.0 86.0,26.0 C88.7,26.0 92.7,29.3 94.0,30.0" fill="none" stroke="#18b020" stroke-width="4" stroke-linecap="round" stroke-dasharray="3 3" filter="url(#bl1_5)" opacity="0.44000000000000006"/>
<g filter="url(#bl1)" fill="#30e838" opacity="0.55"><circle cx="65" cy="23" r="3"/><circle cx="36" cy="43" r="2.6"/><circle cx="29" cy="52" r="2.6"/><circle cx="50" cy="36" r="2.2"/></g>
<g filter="url(#bl1)" fill="#20c828" opacity="0.75"><ellipse cx="56" cy="87" rx="5" ry="2.2"/><ellipse cx="67" cy="87" rx="3" ry="2"/></g>
<ellipse cx="59" cy="98" rx="8" ry="3.0" fill="#28e030" filter="url(#bl2)" opacity="0.3"/>
</g></g>
<g transform="translate(184.4 701)" clip-path="url(#cc1_1)">
<g filter="url(#gt1)"><rect x="0" y="0" width="131.6" height="130.3" fill="#000" fill-opacity="0.01"/>
<path d="M28.0,53.0 C29.3,51.3 32.7,45.7 36.0,43.0 C39.3,40.3 44.3,39.3 48.0,37.0 C51.7,34.7 55.0,31.5 58.0,29.0 C61.0,26.5 64.7,23.2 66.0,22.0" fill="none" stroke="#18c020" stroke-width="4.5" stroke-linecap="round" stroke-dasharray="7 3 4 2.5" filter="url(#bl1_5)" opacity="0.85"/>
<path d="M70.0,36.0 C71.3,35.0 75.3,31.7 78.0,30.0 C80.7,28.3 83.3,26.0 86.0,26.0 C88.7,26.0 92.7,29.3 94.0,30.0" fill="none" stroke="#18b020" stroke-width="4" stroke-linecap="round" stroke-dasharray="3 3" filter="url(#bl1_5)" opacity="0.68"/>
<g filter="url(#bl1)" fill="#30e838" opacity="0.85"><circle cx="65" cy="23" r="3"/><circle cx="36" cy="43" r="2.6"/><circle cx="29" cy="52" r="2.6"/><circle cx="50" cy="36" r="2.2"/></g>
<g filter="url(#bl1)" fill="#20c828" opacity="0.85"><ellipse cx="56" cy="87" rx="5" ry="2.2"/><ellipse cx="67" cy="87" rx="3" ry="2"/></g>
<ellipse cx="60" cy="98" rx="8" ry="3.7" fill="#28e030" filter="url(#bl2)" opacity="0.9"/>
</g></g>
<g transform="translate(317.2 701)" clip-path="url(#cc2_1)">
<g filter="url(#gt2)"><rect x="0" y="0" width="132.4" height="130.3" fill="#000" fill-opacity="0.01"/>
<path d="M28.0,53.0 C29.3,51.3 32.7,45.7 36.0,43.0 C39.3,40.3 44.3,39.3 48.0,37.0 C51.7,34.7 55.0,31.5 58.0,29.0 C61.0,26.5 64.7,23.2 66.0,22.0" fill="none" stroke="#18c020" stroke-width="4.5" stroke-linecap="round" stroke-dasharray="7 3 4 2.5" filter="url(#bl1_5)" opacity="1.0"/>
<path d="M70.0,36.0 C71.3,35.0 75.3,31.7 78.0,30.0 C80.7,28.3 83.3,26.0 86.0,26.0 C88.7,26.0 92.7,29.3 94.0,30.0" fill="none" stroke="#18b020" stroke-width="4" stroke-linecap="round" stroke-dasharray="3 3" filter="url(#bl1_5)" opacity="0.8"/>
<g filter="url(#bl1)" fill="#30e838" opacity="1.0"><circle cx="65" cy="23" r="3"/><circle cx="36" cy="43" r="2.6"/><circle cx="29" cy="52" r="2.6"/><circle cx="50" cy="36" r="2.2"/></g>
<g filter="url(#bl1)" fill="#20c828" opacity="0.95"><ellipse cx="56" cy="87" rx="5" ry="2.2"/><ellipse cx="67" cy="87" rx="3" ry="2"/></g>
<ellipse cx="61" cy="98" rx="8" ry="4.4" fill="#28e030" filter="url(#bl2)" opacity="1"/>
</g></g>
<g transform="translate(450.8 701)" clip-path="url(#cc3_1)">
<g filter="url(#gt3)"><rect x="0" y="0" width="130.8" height="130.3" fill="#000" fill-opacity="0.01"/>
<path d="M24.0,67.0 C24.7,65.0 26.3,59.0 28.0,55.0 C29.7,51.0 31.3,46.5 34.0,43.0 C36.7,39.5 40.3,36.7 44.0,34.0 C47.7,31.3 52.0,29.0 56.0,27.0 C60.0,25.0 64.0,22.3 68.0,22.0 C72.0,21.7 76.3,24.3 80.0,25.0 C83.7,25.7 87.0,25.2 90.0,26.0 C93.0,26.8 96.7,29.3 98.0,30.0" fill="none" stroke="#109818" stroke-width="6" stroke-linecap="round" filter="url(#bl2)" opacity="0.8"/>
<path d="M24.0,67.0 C24.7,65.0 26.3,59.0 28.0,55.0 C29.7,51.0 31.3,46.5 34.0,43.0 C36.7,39.5 42.3,35.5 44.0,34.0" fill="none" stroke="#30ff38" stroke-width="6.5" stroke-linecap="round" stroke-dasharray="7 2" filter="url(#bl1_5)"/>
<path d="M44.0,34.0 C46.0,32.8 52.0,29.0 56.0,27.0 C60.0,25.0 64.0,22.3 68.0,22.0 C72.0,21.7 78.0,24.5 80.0,25.0" fill="none" stroke="#28e030" stroke-width="4.5" stroke-linecap="round" stroke-dasharray="5 3" filter="url(#bl1_5)" opacity="0.95"/>
<path d="M80.0,25.0 C81.7,25.2 87.0,25.2 90.0,26.0 C93.0,26.8 96.7,29.3 98.0,30.0" fill="none" stroke="#20c028" stroke-width="3.5" stroke-linecap="round" stroke-dasharray="5 3" filter="url(#bl1_5)" opacity="0.7"/>
<ellipse cx="63" cy="98.5" rx="11" ry="4.2" fill="#38ff40" filter="url(#bl1_5)"/>
<ellipse cx="62" cy="86" rx="7" ry="2" fill="#109018" filter="url(#bl1_5)" opacity="0.7"/>
</g></g>
<g transform="translate(582.8 701)" clip-path="url(#cc4_1)">
<g filter="url(#gt4)"><rect x="0" y="0" width="131.6" height="130.3" fill="#000" fill-opacity="0.01"/>
<path d="M24.0,67.0 C24.7,65.0 26.3,59.0 28.0,55.0 C29.7,51.0 31.3,46.5 34.0,43.0 C36.7,39.5 40.3,36.7 44.0,34.0 C47.7,31.3 52.0,29.0 56.0,27.0 C60.0,25.0 64.0,22.3 68.0,22.0 C72.0,21.7 76.3,24.3 80.0,25.0 C83.7,25.7 87.0,25.2 90.0,26.0 C93.0,26.8 96.7,29.3 98.0,30.0" fill="none" stroke="#109818" stroke-width="6" stroke-linecap="round" filter="url(#bl2)" opacity="0.8"/>
<path d="M24.0,67.0 C24.7,65.0 26.3,59.0 28.0,55.0 C29.7,51.0 31.3,46.5 34.0,43.0 C36.7,39.5 42.3,35.5 44.0,34.0" fill="none" stroke="#30ff38" stroke-width="6.5" stroke-linecap="round" stroke-dasharray="7 2" filter="url(#bl1_5)"/>
<path d="M44.0,34.0 C46.0,32.8 52.0,29.0 56.0,27.0 C60.0,25.0 64.0,22.3 68.0,22.0 C72.0,21.7 78.0,24.5 80.0,25.0" fill="none" stroke="#28e030" stroke-width="4.5" stroke-linecap="round" stroke-dasharray="5 3" filter="url(#bl1_5)" opacity="0.95"/>
<path d="M80.0,25.0 C81.7,25.2 87.0,25.2 90.0,26.0 C93.0,26.8 96.7,29.3 98.0,30.0" fill="none" stroke="#20c028" stroke-width="3.5" stroke-linecap="round" stroke-dasharray="5 3" filter="url(#bl1_5)" opacity="0.7"/>
<ellipse cx="63" cy="98.5" rx="11" ry="4.2" fill="#38ff40" filter="url(#bl1_5)"/>
<ellipse cx="79" cy="99.5" rx="4" ry="2" fill="#18b020" filter="url(#bl1_5)" opacity="0.7"/>
</g></g>
<g transform="translate(715.6 701)" clip-path="url(#cc5_1)">
<g filter="url(#gt5)"><rect x="0" y="0" width="130.4" height="130.3" fill="#000" fill-opacity="0.01"/>
<path d="M24.0,67.0 C24.7,65.0 26.3,59.0 28.0,55.0 C29.7,51.0 31.3,46.5 34.0,43.0 C36.7,39.5 40.3,36.7 44.0,34.0 C47.7,31.3 52.0,29.0 56.0,27.0 C60.0,25.0 64.0,22.3 68.0,22.0 C72.0,21.7 76.3,24.3 80.0,25.0 C83.7,25.7 87.0,25.2 90.0,26.0 C93.0,26.8 96.7,29.3 98.0,30.0" fill="none" stroke="#109818" stroke-width="6" stroke-linecap="round" filter="url(#bl2)" opacity="0.8"/>
<path d="M24.0,67.0 C24.7,65.0 26.3,59.0 28.0,55.0 C29.7,51.0 31.3,46.5 34.0,43.0 C36.7,39.5 42.3,35.5 44.0,34.0" fill="none" stroke="#30ff38" stroke-width="6.5" stroke-linecap="round" stroke-dasharray="7 2" filter="url(#bl1_5)"/>
<path d="M44.0,34.0 C46.0,32.8 52.0,29.0 56.0,27.0 C60.0,25.0 64.0,22.3 68.0,22.0 C72.0,21.7 78.0,24.5 80.0,25.0" fill="none" stroke="#28e030" stroke-width="4.5" stroke-linecap="round" stroke-dasharray="5 3" filter="url(#bl1_5)" opacity="0.95"/>
<path d="M80.0,25.0 C81.7,25.2 87.0,25.2 90.0,26.0 C93.0,26.8 96.7,29.3 98.0,30.0" fill="none" stroke="#20c028" stroke-width="3.5" stroke-linecap="round" stroke-dasharray="5 3" filter="url(#bl1_5)" opacity="0.7"/>
<ellipse cx="66" cy="98.5" rx="11" ry="4.2" fill="#38ff40" filter="url(#bl1_5)"/>
<ellipse cx="82" cy="99.5" rx="4" ry="2" fill="#18b020" filter="url(#bl1_5)" opacity="0.7"/>
</g></g>
<g transform="translate(51.6 891)" clip-path="url(#cc0_2)">
<g filter="url(#rt0)"><rect x="0" y="0" width="131.6" height="132" fill="#000" fill-opacity="0.01"/>
<path d="M55.2,32.1 C58.2,32.1 61.8,33.8 64.2,35.7 C66.6,37.6 67.2,42.1 69.6,43.8 C72.0,45.4 75.3,45.3 78.6,45.6 C81.9,45.9 85.5,44.7 89.4,45.6 C93.3,46.5 98.8,48.3 102.0,51.0 C105.2,53.7 107.7,57.9 108.3,61.8 C108.9,65.7 106.9,70.5 105.6,74.4 C104.2,78.3 102.2,81.3 100.2,85.2 C98.2,89.1 96.3,93.9 93.9,97.8 C91.5,101.7 89.4,105.6 85.8,108.6 C82.2,111.6 76.8,115.1 72.3,115.8 C67.8,116.6 63.1,114.6 58.8,113.1 C54.4,111.6 50.1,109.3 46.2,106.8 C42.3,104.2 38.4,101.1 35.4,97.8 C32.4,94.5 29.2,91.2 28.2,87.0 C27.1,82.8 27.8,77.4 29.1,72.6 C30.5,67.8 34.3,63.0 36.3,58.2 C38.2,53.4 39.1,47.5 40.8,43.8 C42.4,40.0 43.8,37.6 46.2,35.7 C48.6,33.8 52.2,32.1 55.2,32.1Z" fill="#4a0000" stroke="#700000" stroke-width="7" stroke-linejoin="round" filter="url(#bl3)"/>
<path d="M97.0,49.0 C98.5,50.8 105.0,55.8 106.0,60.0 C107.0,64.2 104.5,69.3 103.0,74.0 C101.5,78.7 99.2,83.5 97.0,88.0 C94.8,92.5 92.8,97.2 90.0,101.0 C87.2,104.8 81.7,109.3 80.0,111.0" fill="none" stroke="#ff0000" stroke-width="16" stroke-linecap="round" filter="url(#bl3)"/>
<path d="M93.0,62.0 C92.5,64.7 91.5,72.7 90.0,78.0 C88.5,83.3 85.0,91.3 84.0,94.0" fill="none" stroke="#f00000" stroke-width="9" stroke-linecap="round" filter="url(#bl4)" opacity="0.85"/>
<path d="M46.0,108.0 C48.0,109.0 53.7,112.7 58.0,114.0 C62.3,115.3 67.7,117.0 72.0,116.0 C76.3,115.0 82.0,109.3 84.0,108.0" fill="none" stroke="#ff0000" stroke-width="10" stroke-linecap="round" filter="url(#bl2_5)"/>
<path d="M38.0,103.0 C36.5,101.2 30.8,96.5 29.0,92.0 C27.2,87.5 26.3,81.3 27.0,76.0 C27.7,70.7 31.0,65.3 33.0,60.0 C35.0,54.7 36.8,48.5 39.0,44.0 C41.2,39.5 43.2,35.5 46.0,33.0 C48.8,30.5 54.3,29.7 56.0,29.0" fill="none" stroke="#c00000" stroke-width="5.5" stroke-linecap="round" filter="url(#bl2_5)" opacity="0.75"/>
<path d="M56.0,29.0 C57.3,29.8 61.3,31.8 64.0,34.0 C66.7,36.2 68.7,40.3 72.0,42.0 C75.3,43.7 79.7,43.2 84.0,44.0 C88.3,44.8 95.7,46.5 98.0,47.0" fill="none" stroke="#c00000" stroke-width="6" stroke-linecap="round" filter="url(#bl2_5)" opacity="0.9"/>
<g filter="url(#bl1_5)" fill="#ff1010"><circle cx="74" cy="42" r="4"/><circle cx="93" cy="57" r="2.5"/><circle cx="56" cy="29" r="3"/><circle cx="44" cy="36" r="3"/><circle cx="35" cy="62" r="3"/><circle cx="27" cy="90" r="3"/><circle cx="40" cy="50" r="2.5"/></g>
<path d="M58.0,52.0 C60.0,53.3 66.3,57.0 70.0,60.0 C73.7,63.0 78.3,68.3 80.0,70.0" fill="none" stroke="#c00000" stroke-width="4" stroke-linecap="round" filter="url(#bl2)" opacity="0.7"/>
<ellipse cx="60" cy="84" rx="17" ry="24" fill="#1c0000" filter="url(#bl5)" opacity="0.85" transform="rotate(8 60 80)"/>
<circle cx="92.5" cy="57" r="5.5" fill="#300000" filter="url(#bl2_5)" opacity="0.8"/>
<g filter="url(#bl2)" fill="#f00000" opacity="1"><ellipse cx="67" cy="10" rx="6" ry="5"/><circle cx="76.5" cy="17.5" r="3"/></g>
<ellipse cx="28" cy="115" rx="7" ry="6" fill="#e80000" filter="url(#bl2_5)" opacity="0.25"/>
</g></g>
<g transform="translate(184.4 891)" clip-path="url(#cc1_2)">
<g filter="url(#rt1)"><rect x="0" y="0" width="131.6" height="132" fill="#000" fill-opacity="0.01"/>
<path d="M55.2,32.1 C58.2,32.1 61.8,33.8 64.2,35.7 C66.6,37.6 67.2,42.1 69.6,43.8 C72.0,45.4 75.3,45.3 78.6,45.6 C81.9,45.9 85.5,44.7 89.4,45.6 C93.3,46.5 98.8,48.3 102.0,51.0 C105.2,53.7 107.7,57.9 108.3,61.8 C108.9,65.7 106.9,70.5 105.6,74.4 C104.2,78.3 102.2,81.3 100.2,85.2 C98.2,89.1 96.3,93.9 93.9,97.8 C91.5,101.7 89.4,105.6 85.8,108.6 C82.2,111.6 76.8,115.1 72.3,115.8 C67.8,116.6 63.1,114.6 58.8,113.1 C54.4,111.6 50.1,109.3 46.2,106.8 C42.3,104.2 38.4,101.1 35.4,97.8 C32.4,94.5 29.2,91.2 28.2,87.0 C27.1,82.8 27.8,77.4 29.1,72.6 C30.5,67.8 34.3,63.0 36.3,58.2 C38.2,53.4 39.1,47.5 40.8,43.8 C42.4,40.0 43.8,37.6 46.2,35.7 C48.6,33.8 52.2,32.1 55.2,32.1Z" fill="#4a0000" stroke="#700000" stroke-width="7" stroke-linejoin="round" filter="url(#bl3)"/>
<path d="M97.0,49.0 C98.5,50.8 105.0,55.8 106.0,60.0 C107.0,64.2 104.5,69.3 103.0,74.0 C101.5,78.7 99.2,83.5 97.0,88.0 C94.8,92.5 92.8,97.2 90.0,101.0 C87.2,104.8 81.7,109.3 80.0,111.0" fill="none" stroke="#ff0000" stroke-width="16" stroke-linecap="round" filter="url(#bl3)"/>
<path d="M93.0,62.0 C92.5,64.7 91.5,72.7 90.0,78.0 C88.5,83.3 85.0,91.3 84.0,94.0" fill="none" stroke="#f00000" stroke-width="9" stroke-linecap="round" filter="url(#bl4)" opacity="0.85"/>
<path d="M46.0,108.0 C48.0,109.0 53.7,112.7 58.0,114.0 C62.3,115.3 67.7,117.0 72.0,116.0 C76.3,115.0 82.0,109.3 84.0,108.0" fill="none" stroke="#ff0000" stroke-width="10" stroke-linecap="round" filter="url(#bl2_5)"/>
<path d="M38.0,103.0 C36.5,101.2 30.8,96.5 29.0,92.0 C27.2,87.5 26.3,81.3 27.0,76.0 C27.7,70.7 31.0,65.3 33.0,60.0 C35.0,54.7 36.8,48.5 39.0,44.0 C41.2,39.5 43.2,35.5 46.0,33.0 C48.8,30.5 54.3,29.7 56.0,29.0" fill="none" stroke="#c00000" stroke-width="5.5" stroke-linecap="round" filter="url(#bl2_5)" opacity="0.75"/>
<path d="M56.0,29.0 C57.3,29.8 61.3,31.8 64.0,34.0 C66.7,36.2 68.7,40.3 72.0,42.0 C75.3,43.7 79.7,43.2 84.0,44.0 C88.3,44.8 95.7,46.5 98.0,47.0" fill="none" stroke="#c00000" stroke-width="6" stroke-linecap="round" filter="url(#bl2_5)" opacity="0.9"/>
<g filter="url(#bl1_5)" fill="#ff1010"><circle cx="74" cy="42" r="4"/><circle cx="93" cy="57" r="2.5"/><circle cx="56" cy="29" r="3"/><circle cx="44" cy="36" r="3"/><circle cx="35" cy="62" r="3"/><circle cx="27" cy="90" r="3"/><circle cx="40" cy="50" r="2.5"/></g>
<path d="M58.0,52.0 C60.0,53.3 66.3,57.0 70.0,60.0 C73.7,63.0 78.3,68.3 80.0,70.0" fill="none" stroke="#c00000" stroke-width="4" stroke-linecap="round" filter="url(#bl2)" opacity="0.7"/>
<ellipse cx="60" cy="84" rx="17" ry="24" fill="#1c0000" filter="url(#bl5)" opacity="0.85" transform="rotate(8 60 80)"/>
<circle cx="92.5" cy="57" r="5.5" fill="#300000" filter="url(#bl2_5)" opacity="0.8"/>
<g filter="url(#bl2)" fill="#f00000" opacity="1"><ellipse cx="67" cy="10" rx="6" ry="5"/><circle cx="76.5" cy="17.5" r="3"/></g>
<ellipse cx="28" cy="115" rx="7" ry="6" fill="#e80000" filter="url(#bl2_5)" opacity="0.4"/>
</g></g>
<g transform="translate(317.2 891)" clip-path="url(#cc2_2)">
<g filter="url(#rt2)"><rect x="0" y="0" width="132.4" height="132" fill="#000" fill-opacity="0.01"/>
<path d="M55.2,32.1 C58.2,32.1 61.8,33.8 64.2,35.7 C66.6,37.6 67.2,42.1 69.6,43.8 C72.0,45.4 75.3,45.3 78.6,45.6 C81.9,45.9 85.5,44.7 89.4,45.6 C93.3,46.5 98.8,48.3 102.0,51.0 C105.2,53.7 107.7,57.9 108.3,61.8 C108.9,65.7 106.9,70.5 105.6,74.4 C104.2,78.3 102.2,81.3 100.2,85.2 C98.2,89.1 96.3,93.9 93.9,97.8 C91.5,101.7 89.4,105.6 85.8,108.6 C82.2,111.6 76.8,115.1 72.3,115.8 C67.8,116.6 63.1,114.6 58.8,113.1 C54.4,111.6 50.1,109.3 46.2,106.8 C42.3,104.2 38.4,101.1 35.4,97.8 C32.4,94.5 29.2,91.2 28.2,87.0 C27.1,82.8 27.8,77.4 29.1,72.6 C30.5,67.8 34.3,63.0 36.3,58.2 C38.2,53.4 39.1,47.5 40.8,43.8 C42.4,40.0 43.8,37.6 46.2,35.7 C48.6,33.8 52.2,32.1 55.2,32.1Z" fill="#4a0000" stroke="#700000" stroke-width="7" stroke-linejoin="round" filter="url(#bl3)"/>
<path d="M97.0,49.0 C98.5,50.8 105.0,55.8 106.0,60.0 C107.0,64.2 104.5,69.3 103.0,74.0 C101.5,78.7 99.2,83.5 97.0,88.0 C94.8,92.5 92.8,97.2 90.0,101.0 C87.2,104.8 81.7,109.3 80.0,111.0" fill="none" stroke="#ff0000" stroke-width="16" stroke-linecap="round" filter="url(#bl3)"/>
<path d="M93.0,62.0 C92.5,64.7 91.5,72.7 90.0,78.0 C88.5,83.3 85.0,91.3 84.0,94.0" fill="none" stroke="#f00000" stroke-width="9" stroke-linecap="round" filter="url(#bl4)" opacity="0.85"/>
<path d="M46.0,108.0 C48.0,109.0 53.7,112.7 58.0,114.0 C62.3,115.3 67.7,117.0 72.0,116.0 C76.3,115.0 82.0,109.3 84.0,108.0" fill="none" stroke="#ff0000" stroke-width="10" stroke-linecap="round" filter="url(#bl2_5)"/>
<path d="M38.0,103.0 C36.5,101.2 30.8,96.5 29.0,92.0 C27.2,87.5 26.3,81.3 27.0,76.0 C27.7,70.7 31.0,65.3 33.0,60.0 C35.0,54.7 36.8,48.5 39.0,44.0 C41.2,39.5 43.2,35.5 46.0,33.0 C48.8,30.5 54.3,29.7 56.0,29.0" fill="none" stroke="#c00000" stroke-width="5.5" stroke-linecap="round" filter="url(#bl2_5)" opacity="0.75"/>
<path d="M56.0,29.0 C57.3,29.8 61.3,31.8 64.0,34.0 C66.7,36.2 68.7,40.3 72.0,42.0 C75.3,43.7 79.7,43.2 84.0,44.0 C88.3,44.8 95.7,46.5 98.0,47.0" fill="none" stroke="#c00000" stroke-width="6" stroke-linecap="round" filter="url(#bl2_5)" opacity="0.9"/>
<g filter="url(#bl1_5)" fill="#ff1010"><circle cx="74" cy="42" r="4"/><circle cx="93" cy="57" r="2.5"/><circle cx="56" cy="29" r="3"/><circle cx="44" cy="36" r="3"/><circle cx="35" cy="62" r="3"/><circle cx="27" cy="90" r="3"/><circle cx="40" cy="50" r="2.5"/></g>
<path d="M58.0,52.0 C60.0,53.3 66.3,57.0 70.0,60.0 C73.7,63.0 78.3,68.3 80.0,70.0" fill="none" stroke="#c00000" stroke-width="4" stroke-linecap="round" filter="url(#bl2)" opacity="0.7"/>
<ellipse cx="60" cy="84" rx="17" ry="24" fill="#1c0000" filter="url(#bl5)" opacity="0.85" transform="rotate(8 60 80)"/>
<circle cx="92.5" cy="57" r="5.5" fill="#300000" filter="url(#bl2_5)" opacity="0.8"/>
<g filter="url(#bl2)" fill="#f00000" opacity="0.9"><ellipse cx="67" cy="10" rx="6" ry="5"/><circle cx="76.5" cy="17.5" r="3"/></g>
<ellipse cx="28" cy="115" rx="7" ry="6" fill="#e80000" filter="url(#bl2_5)" opacity="0.55"/>
</g></g>
<g transform="translate(450.8 891)" clip-path="url(#cc3_2)">
<g filter="url(#rt3)"><rect x="0" y="0" width="130.8" height="132" fill="#000" fill-opacity="0.01"/>
<path d="M55.2,32.1 C58.2,32.1 61.8,33.8 64.2,35.7 C66.6,37.6 67.2,42.1 69.6,43.8 C72.0,45.4 75.3,45.3 78.6,45.6 C81.9,45.9 85.5,44.7 89.4,45.6 C93.3,46.5 98.8,48.3 102.0,51.0 C105.2,53.7 107.7,57.9 108.3,61.8 C108.9,65.7 106.9,70.5 105.6,74.4 C104.2,78.3 102.2,81.3 100.2,85.2 C98.2,89.1 96.3,93.9 93.9,97.8 C91.5,101.7 89.4,105.6 85.8,108.6 C82.2,111.6 76.8,115.1 72.3,115.8 C67.8,116.6 63.1,114.6 58.8,113.1 C54.4,111.6 50.1,109.3 46.2,106.8 C42.3,104.2 38.4,101.1 35.4,97.8 C32.4,94.5 29.2,91.2 28.2,87.0 C27.1,82.8 27.8,77.4 29.1,72.6 C30.5,67.8 34.3,63.0 36.3,58.2 C38.2,53.4 39.1,47.5 40.8,43.8 C42.4,40.0 43.8,37.6 46.2,35.7 C48.6,33.8 52.2,32.1 55.2,32.1Z" fill="#420000" stroke="#700000" stroke-width="7" stroke-linejoin="round" filter="url(#bl3)"/>
<path d="M97.0,49.0 C98.5,50.8 105.0,55.8 106.0,60.0 C107.0,64.2 104.5,69.3 103.0,74.0 C101.5,78.7 99.2,83.5 97.0,88.0 C94.8,92.5 92.8,97.2 90.0,101.0 C87.2,104.8 81.7,109.3 80.0,111.0" fill="none" stroke="#ff0000" stroke-width="17" stroke-linecap="round" filter="url(#bl3)"/>
<path d="M93.0,62.0 C92.5,64.7 91.5,72.7 90.0,78.0 C88.5,83.3 85.0,91.3 84.0,94.0" fill="none" stroke="#f00000" stroke-width="9" stroke-linecap="round" filter="url(#bl4)" opacity="0.85"/>
<path d="M46.0,108.0 C48.0,109.0 53.7,112.7 58.0,114.0 C62.3,115.3 67.7,117.0 72.0,116.0 C76.3,115.0 82.0,109.3 84.0,108.0" fill="none" stroke="#ff0000" stroke-width="10" stroke-linecap="round" filter="url(#bl2_5)"/>
<path d="M38.0,103.0 C36.5,101.2 30.8,96.5 29.0,92.0 C27.2,87.5 26.3,81.3 27.0,76.0 C27.7,70.7 31.0,65.3 33.0,60.0 C35.0,54.7 36.8,48.5 39.0,44.0 C41.2,39.5 43.2,35.5 46.0,33.0 C48.8,30.5 54.3,29.7 56.0,29.0" fill="none" stroke="#ff0000" stroke-width="8" stroke-linecap="round" filter="url(#bl2)"/>
<path d="M56.0,29.0 C57.3,29.8 61.3,31.8 64.0,34.0 C66.7,36.2 68.7,40.3 72.0,42.0 C75.3,43.7 79.7,43.2 84.0,44.0 C88.3,44.8 95.7,46.5 98.0,47.0" fill="none" stroke="#d80000" stroke-width="6" stroke-linecap="round" filter="url(#bl2_5)" opacity="0.9"/>
<g filter="url(#bl1_5)" fill="#ff1010"><circle cx="54" cy="29" r="4"/><circle cx="74" cy="42" r="4"/><circle cx="40" cy="50" r="3"/><circle cx="28" cy="86" r="3"/></g>
<ellipse cx="60" cy="80" rx="20" ry="27" fill="#1c0000" filter="url(#bl5)" opacity="0.95" transform="rotate(8 60 80)"/>
<circle cx="92.5" cy="57" r="5.5" fill="#300000" filter="url(#bl2_5)" opacity="0.8"/>
<g filter="url(#bl2)" fill="#f00000" opacity="0.7"><ellipse cx="67" cy="10" rx="6" ry="5"/><circle cx="76.5" cy="17.5" r="3"/></g>
<ellipse cx="28" cy="115" rx="7" ry="6" fill="#e80000" filter="url(#bl2_5)" opacity="0.95"/>
</g></g>
<g transform="translate(582.8 891)" clip-path="url(#cc4_2)">
<g filter="url(#rt4)"><rect x="0" y="0" width="131.6" height="132" fill="#000" fill-opacity="0.01"/>
<path d="M55.2,32.1 C58.2,32.1 61.8,33.8 64.2,35.7 C66.6,37.6 67.2,42.1 69.6,43.8 C72.0,45.4 75.3,45.3 78.6,45.6 C81.9,45.9 85.5,44.7 89.4,45.6 C93.3,46.5 98.8,48.3 102.0,51.0 C105.2,53.7 107.7,57.9 108.3,61.8 C108.9,65.7 106.9,70.5 105.6,74.4 C104.2,78.3 102.2,81.3 100.2,85.2 C98.2,89.1 96.3,93.9 93.9,97.8 C91.5,101.7 89.4,105.6 85.8,108.6 C82.2,111.6 76.8,115.1 72.3,115.8 C67.8,116.6 63.1,114.6 58.8,113.1 C54.4,111.6 50.1,109.3 46.2,106.8 C42.3,104.2 38.4,101.1 35.4,97.8 C32.4,94.5 29.2,91.2 28.2,87.0 C27.1,82.8 27.8,77.4 29.1,72.6 C30.5,67.8 34.3,63.0 36.3,58.2 C38.2,53.4 39.1,47.5 40.8,43.8 C42.4,40.0 43.8,37.6 46.2,35.7 C48.6,33.8 52.2,32.1 55.2,32.1Z" fill="#420000" stroke="#700000" stroke-width="7" stroke-linejoin="round" filter="url(#bl3)"/>
<path d="M97.0,49.0 C98.5,50.8 105.0,55.8 106.0,60.0 C107.0,64.2 104.5,69.3 103.0,74.0 C101.5,78.7 99.2,83.5 97.0,88.0 C94.8,92.5 92.8,97.2 90.0,101.0 C87.2,104.8 81.7,109.3 80.0,111.0" fill="none" stroke="#ff0000" stroke-width="17" stroke-linecap="round" filter="url(#bl3)"/>
<path d="M93.0,62.0 C92.5,64.7 91.5,72.7 90.0,78.0 C88.5,83.3 85.0,91.3 84.0,94.0" fill="none" stroke="#f00000" stroke-width="9" stroke-linecap="round" filter="url(#bl4)" opacity="0.85"/>
<path d="M46.0,108.0 C48.0,109.0 53.7,112.7 58.0,114.0 C62.3,115.3 67.7,117.0 72.0,116.0 C76.3,115.0 82.0,109.3 84.0,108.0" fill="none" stroke="#ff0000" stroke-width="10" stroke-linecap="round" filter="url(#bl2_5)"/>
<path d="M38.0,103.0 C36.5,101.2 30.8,96.5 29.0,92.0 C27.2,87.5 26.3,81.3 27.0,76.0 C27.7,70.7 31.0,65.3 33.0,60.0 C35.0,54.7 36.8,48.5 39.0,44.0 C41.2,39.5 43.2,35.5 46.0,33.0 C48.8,30.5 54.3,29.7 56.0,29.0" fill="none" stroke="#ff0000" stroke-width="8" stroke-linecap="round" filter="url(#bl2)"/>
<path d="M56.0,29.0 C57.3,29.8 61.3,31.8 64.0,34.0 C66.7,36.2 68.7,40.3 72.0,42.0 C75.3,43.7 79.7,43.2 84.0,44.0 C88.3,44.8 95.7,46.5 98.0,47.0" fill="none" stroke="#d80000" stroke-width="6" stroke-linecap="round" filter="url(#bl2_5)" opacity="0.9"/>
<g filter="url(#bl1_5)" fill="#ff1010"><circle cx="54" cy="29" r="4"/><circle cx="74" cy="42" r="4"/><circle cx="40" cy="50" r="3"/><circle cx="28" cy="86" r="3"/></g>
<ellipse cx="60" cy="80" rx="20" ry="27" fill="#1c0000" filter="url(#bl5)" opacity="0.95" transform="rotate(8 60 80)"/>
<circle cx="92.5" cy="57" r="5.5" fill="#300000" filter="url(#bl2_5)" opacity="0.8"/>
<g filter="url(#bl2)" fill="#f00000" opacity="0.45"><ellipse cx="67" cy="10" rx="6" ry="5"/><circle cx="76.5" cy="17.5" r="3"/></g>
<ellipse cx="28" cy="115" rx="7" ry="6" fill="#e80000" filter="url(#bl2_5)" opacity="1"/>
</g></g>
<g transform="translate(715.6 891)" clip-path="url(#cc5_2)">
<g filter="url(#rt5)"><rect x="0" y="0" width="130.4" height="132" fill="#000" fill-opacity="0.01"/>
<path d="M55.2,32.1 C58.2,32.1 61.8,33.8 64.2,35.7 C66.6,37.6 67.2,42.1 69.6,43.8 C72.0,45.4 75.3,45.3 78.6,45.6 C81.9,45.9 85.5,44.7 89.4,45.6 C93.3,46.5 98.8,48.3 102.0,51.0 C105.2,53.7 107.7,57.9 108.3,61.8 C108.9,65.7 106.9,70.5 105.6,74.4 C104.2,78.3 102.2,81.3 100.2,85.2 C98.2,89.1 96.3,93.9 93.9,97.8 C91.5,101.7 89.4,105.6 85.8,108.6 C82.2,111.6 76.8,115.1 72.3,115.8 C67.8,116.6 63.1,114.6 58.8,113.1 C54.4,111.6 50.1,109.3 46.2,106.8 C42.3,104.2 38.4,101.1 35.4,97.8 C32.4,94.5 29.2,91.2 28.2,87.0 C27.1,82.8 27.8,77.4 29.1,72.6 C30.5,67.8 34.3,63.0 36.3,58.2 C38.2,53.4 39.1,47.5 40.8,43.8 C42.4,40.0 43.8,37.6 46.2,35.7 C48.6,33.8 52.2,32.1 55.2,32.1Z" fill="#420000" stroke="#700000" stroke-width="7" stroke-linejoin="round" filter="url(#bl3)"/>
<path d="M97.0,49.0 C98.5,50.8 105.0,55.8 106.0,60.0 C107.0,64.2 104.5,69.3 103.0,74.0 C101.5,78.7 99.2,83.5 97.0,88.0 C94.8,92.5 92.8,97.2 90.0,101.0 C87.2,104.8 81.7,109.3 80.0,111.0" fill="none" stroke="#ff0000" stroke-width="17" stroke-linecap="round" filter="url(#bl3)"/>
<path d="M93.0,62.0 C92.5,64.7 91.5,72.7 90.0,78.0 C88.5,83.3 85.0,91.3 84.0,94.0" fill="none" stroke="#f00000" stroke-width="9" stroke-linecap="round" filter="url(#bl4)" opacity="0.85"/>
<path d="M46.0,108.0 C48.0,109.0 53.7,112.7 58.0,114.0 C62.3,115.3 67.7,117.0 72.0,116.0 C76.3,115.0 82.0,109.3 84.0,108.0" fill="none" stroke="#ff0000" stroke-width="10" stroke-linecap="round" filter="url(#bl2_5)"/>
<path d="M38.0,103.0 C36.5,101.2 30.8,96.5 29.0,92.0 C27.2,87.5 26.3,81.3 27.0,76.0 C27.7,70.7 31.0,65.3 33.0,60.0 C35.0,54.7 36.8,48.5 39.0,44.0 C41.2,39.5 43.2,35.5 46.0,33.0 C48.8,30.5 54.3,29.7 56.0,29.0" fill="none" stroke="#ff0000" stroke-width="8" stroke-linecap="round" filter="url(#bl2)"/>
<path d="M56.0,29.0 C57.3,29.8 61.3,31.8 64.0,34.0 C66.7,36.2 68.7,40.3 72.0,42.0 C75.3,43.7 79.7,43.2 84.0,44.0 C88.3,44.8 95.7,46.5 98.0,47.0" fill="none" stroke="#d80000" stroke-width="6" stroke-linecap="round" filter="url(#bl2_5)" opacity="0.9"/>
<g filter="url(#bl1_5)" fill="#ff1010"><circle cx="54" cy="29" r="4"/><circle cx="74" cy="42" r="4"/><circle cx="40" cy="50" r="3"/><circle cx="28" cy="86" r="3"/></g>
<ellipse cx="60" cy="80" rx="20" ry="27" fill="#1c0000" filter="url(#bl5)" opacity="0.95" transform="rotate(8 60 80)"/>
<circle cx="92.5" cy="57" r="5.5" fill="#300000" filter="url(#bl2_5)" opacity="0.8"/>
<g filter="url(#bl2)" fill="#f00000" opacity="0.3"><ellipse cx="67" cy="10" rx="6" ry="5"/><circle cx="76.5" cy="17.5" r="3"/></g>
<ellipse cx="28" cy="115" rx="7" ry="6" fill="#e80000" filter="url(#bl2_5)" opacity="1"/>
</g></g>
<g transform="translate(51.6 1024.5)" clip-path="url(#cc0_3)">
<g filter="url(#gt0)"><rect x="0" y="0" width="131.6" height="125.8" fill="#000" fill-opacity="0.01"/>
<g filter="url(#bl1_5)" fill="#28e030"><circle cx="76.6" cy="61" r="2.8" opacity="0.75"/><circle cx="84.8" cy="66" r="3" opacity="0.75"/><circle cx="97.7" cy="70" r="5" opacity="0.75"/><circle cx="93" cy="88" r="4" opacity="0.68"/><circle cx="74.3" cy="82" r="2.4" opacity="0.68"/><circle cx="80" cy="81" r="2.2" opacity="0.60"/><circle cx="88.3" cy="79" r="2.4" opacity="0.60"/><circle cx="55.5" cy="110.6" r="2.8" opacity="0.68"/><circle cx="39" cy="32.5" r="2" opacity="0.45"/><circle cx="73" cy="40" r="1.8" opacity="0.38"/><circle cx="68.4" cy="46" r="1.8" opacity="0.30"/><circle cx="66" cy="55" r="2.2" opacity="0.38"/><circle cx="90" cy="100" r="2" opacity="0.38"/><circle cx="84" cy="75" r="2" opacity="0.45"/><circle cx="100" cy="64" r="2.5" opacity="0.60"/><circle cx="95" cy="78" r="3" opacity="0.68"/></g>
</g></g>
<g transform="translate(184.4 1024.5)" clip-path="url(#cc1_3)">
<g filter="url(#gt1)"><rect x="0" y="0" width="131.6" height="125.8" fill="#000" fill-opacity="0.01"/>
<g filter="url(#bl1_5)" fill="#28e030"><circle cx="76.6" cy="61" r="2.8" opacity="1.00"/><circle cx="84.8" cy="66" r="3" opacity="1.00"/><circle cx="97.7" cy="70" r="5" opacity="1.00"/><circle cx="93" cy="88" r="4" opacity="0.90"/><circle cx="74.3" cy="82" r="2.4" opacity="0.90"/><circle cx="80" cy="81" r="2.2" opacity="0.80"/><circle cx="88.3" cy="79" r="2.4" opacity="0.80"/><circle cx="55.5" cy="110.6" r="2.8" opacity="0.90"/><circle cx="39" cy="32.5" r="2" opacity="0.60"/><circle cx="73" cy="40" r="1.8" opacity="0.50"/><circle cx="68.4" cy="46" r="1.8" opacity="0.40"/><circle cx="66" cy="55" r="2.2" opacity="0.50"/><circle cx="90" cy="100" r="2" opacity="0.50"/><circle cx="84" cy="75" r="2" opacity="0.60"/><circle cx="100" cy="64" r="2.5" opacity="0.80"/><circle cx="95" cy="78" r="3" opacity="0.90"/></g>
<path d="M98,68 L92,90" stroke="#30f038" stroke-width="5" stroke-linecap="round" filter="url(#bl2)" opacity="0.9"/>
</g></g>
<g transform="translate(317.2 1024.5)" clip-path="url(#cc2_3)">
<g filter="url(#gt2)"><rect x="0" y="0" width="132.4" height="125.8" fill="#000" fill-opacity="0.01"/>
<g filter="url(#bl1_5)" fill="#28e030"><circle cx="76.6" cy="61" r="2.8" opacity="1.00"/><circle cx="84.8" cy="66" r="3" opacity="1.00"/><circle cx="97.7" cy="70" r="5" opacity="1.00"/><circle cx="93" cy="88" r="4" opacity="0.90"/><circle cx="74.3" cy="82" r="2.4" opacity="0.90"/><circle cx="80" cy="81" r="2.2" opacity="0.80"/><circle cx="88.3" cy="79" r="2.4" opacity="0.80"/><circle cx="55.5" cy="110.6" r="2.8" opacity="0.90"/><circle cx="39" cy="32.5" r="2" opacity="0.60"/><circle cx="73" cy="40" r="1.8" opacity="0.50"/><circle cx="68.4" cy="46" r="1.8" opacity="0.40"/><circle cx="66" cy="55" r="2.2" opacity="0.50"/><circle cx="90" cy="100" r="2" opacity="0.50"/><circle cx="84" cy="75" r="2" opacity="0.60"/><circle cx="100" cy="64" r="2.5" opacity="0.80"/><circle cx="95" cy="78" r="3" opacity="0.90"/></g>
<path d="M98,68 L92,90" stroke="#30f038" stroke-width="6" stroke-linecap="round" filter="url(#bl2)" opacity="0.9"/>
</g></g>
<g transform="translate(450.8 1024.5)" clip-path="url(#cc3_3)">
<g filter="url(#gt3)"><rect x="0" y="0" width="130.8" height="125.8" fill="#000" fill-opacity="0.01"/>
<path d="M99,66 L97,72 L94,90 L90,102" fill="none" stroke="#18b820" stroke-width="5" stroke-linecap="round" filter="url(#bl2)" opacity="0.8"/>
<ellipse cx="99" cy="70" rx="5.5" ry="7" fill="#38f840" filter="url(#bl1_5)" transform="rotate(20 99 70)"/>
<ellipse cx="94" cy="90" rx="4" ry="6" fill="#38f840" filter="url(#bl1_5)" transform="rotate(25 94 90)"/>
<ellipse cx="54" cy="110" rx="5" ry="2.6" fill="#20c028" filter="url(#bl1_5)" opacity="1" transform="rotate(20 54 110)"/>
<circle cx="25" cy="72" r="3" fill="#189820" filter="url(#bl1_5)" opacity="0.4"/>
<g filter="url(#bl1)" fill="#20c028" opacity="0.7"><circle cx="84" cy="64" r="2.2"/><circle cx="78" cy="62" r="2"/><circle cx="39" cy="32.5" r="2"/><circle cx="90" cy="104" r="2"/><circle cx="84" cy="116" r="1.5"/></g>
</g></g>
<g transform="translate(582.8 1024.5)" clip-path="url(#cc4_3)">
<g filter="url(#gt4)"><rect x="0" y="0" width="131.6" height="125.8" fill="#000" fill-opacity="0.01"/>
<path d="M101,66 L99,72 L96,90 L92,102" fill="none" stroke="#18b820" stroke-width="5" stroke-linecap="round" filter="url(#bl2)" opacity="0.8"/>
<ellipse cx="101" cy="70" rx="5.5" ry="7" fill="#38f840" filter="url(#bl1_5)" transform="rotate(20 101 70)"/>
<ellipse cx="96" cy="90" rx="4" ry="6" fill="#38f840" filter="url(#bl1_5)" transform="rotate(25 96 90)"/>
<ellipse cx="47" cy="110" rx="5" ry="2.6" fill="#20c028" filter="url(#bl1_5)" opacity="0.8" transform="rotate(20 47 110)"/>
<circle cx="25" cy="72" r="3" fill="#189820" filter="url(#bl1_5)" opacity="0.8"/>
</g></g>
<g transform="translate(715.6 1024.5)" clip-path="url(#cc5_3)">
<g filter="url(#gt5)"><rect x="0" y="0" width="130.4" height="125.8" fill="#000" fill-opacity="0.01"/>
<path d="M103,66 L101,72 L98,90 L94,102" fill="none" stroke="#18b820" stroke-width="5" stroke-linecap="round" filter="url(#bl2)" opacity="0.8"/>
<ellipse cx="103" cy="70" rx="5.5" ry="7" fill="#38f840" filter="url(#bl1_5)" transform="rotate(20 103 70)"/>
<ellipse cx="98" cy="90" rx="4" ry="6" fill="#38f840" filter="url(#bl1_5)" transform="rotate(25 98 90)"/>
<ellipse cx="52" cy="110" rx="5" ry="2.6" fill="#20c028" filter="url(#bl1_5)" opacity="0.5" transform="rotate(20 52 110)"/>
<circle cx="25" cy="72" r="3" fill="#189820" filter="url(#bl1_5)" opacity="0.7"/>
</g></g>
<line x1="183.2" y1="569.8" x2="183.2" y2="831.3" stroke="#d0d0d0" stroke-width="2.4"/>
<line x1="183.2" y1="891" x2="183.2" y2="1150.3" stroke="#d0d0d0" stroke-width="2.6"/>
<line x1="316" y1="569.8" x2="316" y2="831.3" stroke="#d0d0d0" stroke-width="2.4"/>
<line x1="316" y1="891" x2="316" y2="1150.3" stroke="#d0d0d0" stroke-width="2.6"/>
<line x1="449.6" y1="569.8" x2="449.6" y2="831.3" stroke="#d0d0d0" stroke-width="2.4"/>
<line x1="449.6" y1="891" x2="449.6" y2="1150.3" stroke="#d0d0d0" stroke-width="2.6"/>
<line x1="581.6" y1="569.8" x2="581.6" y2="831.3" stroke="#d0d0d0" stroke-width="2.4"/>
<line x1="581.6" y1="891" x2="581.6" y2="1150.3" stroke="#d0d0d0" stroke-width="2.6"/>
<line x1="714.4" y1="569.8" x2="714.4" y2="831.3" stroke="#d0d0d0" stroke-width="2.4"/>
<line x1="714.4" y1="891" x2="714.4" y2="1150.3" stroke="#d0d0d0" stroke-width="2.6"/>
<line x1="51.6" y1="700" x2="846" y2="700" stroke="#a8a8a8" stroke-width="1.8"/>
<line x1="51.6" y1="1023" x2="846" y2="1023" stroke="#d0d0d0" stroke-width="3"/>
<line x1="515.3" y1="704" x2="515.3" y2="831.3" stroke="#fff" stroke-width="8.2" stroke-dasharray="12.6 8.4" stroke-dashoffset="7"/>
<line x1="515.3" y1="1028" x2="515.3" y2="1150.3" stroke="#fff" stroke-width="8.2" stroke-dasharray="12.6 8.2" stroke-dashoffset="6"/>
<text transform="translate(114.68 692.4) scale(0.827 1)" font-size="24.5" fill="#ff2222" font-weight="bold">RFRT</text>
<text transform="translate(106.63 816.8) scale(1.043 1)" font-size="20" fill="#0cb858" stroke="#0cb858" stroke-width="0.7">DMSN</text>
<line x1="45" y1="1165" x2="852" y2="1165" stroke="#111" stroke-width="2.6"/>
<path d="M848,1158 L864,1165 L848,1172 Z" fill="#111"/>
<text transform="translate(101.62 1202.3) scale(1.080 1)" font-size="26.2" fill="#1a1a1a" stroke="#1a1a1a" stroke-width="0.35">0</text>
<text transform="translate(225.29 1202.3) scale(1.080 1)" font-size="26.2" fill="#1a1a1a" letter-spacing="2.77" stroke="#1a1a1a" stroke-width="0.35">20</text>
<text transform="translate(359.23 1202.3) scale(1.080 1)" font-size="26.2" fill="#1a1a1a" letter-spacing="2.91" stroke="#1a1a1a" stroke-width="0.35">40</text>
<text transform="translate(491.59 1202.3) scale(1.080 1)" font-size="26.2" fill="#1a1a1a" letter-spacing="2.77" stroke="#1a1a1a" stroke-width="0.35">60</text>
<text transform="translate(625.73 1202.3) scale(1.080 1)" font-size="26.2" fill="#1a1a1a" letter-spacing="2.64" stroke="#1a1a1a" stroke-width="0.35">80</text>
<text transform="translate(749.98 1202.3) scale(1.080 1)" font-size="26.2" fill="#1a1a1a" letter-spacing="1.39" stroke="#1a1a1a" stroke-width="0.35">100</text>
<text transform="translate(41.67 1240) scale(1.080 1)" font-size="27" fill="#1a1a1a" letter-spacing="0.64" stroke="#1a1a1a" stroke-width="0.35">Penetration Depth (μm)</text>
</g>
<g id="chart">
<rect x="1041.5" y="564.5" width="695" height="460" fill="none" stroke="#3a3a3a" stroke-width="2.6"/>
<line x1="1023" y1="1024.6" x2="1737.5" y2="1024.6" stroke="#333" stroke-width="3.4"/>
<line x1="1041.3" y1="564" x2="1041.3" y2="1042" stroke="#333" stroke-width="3.2"/>
<line x1="1023" y1="564.5" x2="1041" y2="564.5" stroke="#333" stroke-width="3"/>
<line x1="1023" y1="717" x2="1041" y2="717" stroke="#333" stroke-width="3"/>
<line x1="1023" y1="871" x2="1041" y2="871" stroke="#333" stroke-width="3"/>
<line x1="1167.8" y1="1024" x2="1167.8" y2="1042" stroke="#333" stroke-width="3"/>
<line x1="1294.3" y1="1024" x2="1294.3" y2="1042" stroke="#333" stroke-width="3"/>
<line x1="1420.8" y1="1024" x2="1420.8" y2="1042" stroke="#333" stroke-width="3"/>
<line x1="1547.3" y1="1024" x2="1547.3" y2="1042" stroke="#333" stroke-width="3"/>
<line x1="1673.8" y1="1024" x2="1673.8" y2="1042" stroke="#333" stroke-width="3"/>
<text transform="translate(943.67 580.1) scale(1.029 1)" font-size="46" fill="#111" stroke="#111" stroke-width="0.35">900</text>
<text transform="translate(942.91 732.6) scale(1.039 1)" font-size="46" fill="#111" stroke="#111" stroke-width="0.35">600</text>
<text transform="translate(943.91 886.7) scale(1.025 1)" font-size="46" fill="#111" stroke="#111" stroke-width="0.35">300</text>
<text transform="translate(995.88 1040.3) scale(1.042 1)" font-size="46" fill="#111" stroke="#111" stroke-width="0.35">0</text>
<text transform="translate(1028.52 1089.5) scale(1.024 1)" font-size="46" fill="#111" stroke="#111" stroke-width="0.35">0</text>
<text transform="translate(1154.75 1089.5) scale(1.033 1)" font-size="46" fill="#111" stroke="#111" stroke-width="0.35">4</text>
<text transform="translate(1280.60 1089.5) scale(1.064 1)" font-size="46" fill="#111" stroke="#111" stroke-width="0.35">8</text>
<text transform="translate(1397.00 1089.5) scale(1.000 1)" font-size="46" fill="#111" stroke="#111" stroke-width="0.35">12</text>
<text transform="translate(1524.11 1089.5) scale(0.983 1)" font-size="46" fill="#111" stroke="#111" stroke-width="0.35">16</text>
<text transform="translate(1646.59 1089.5) scale(1.071 1)" font-size="46" fill="#111" stroke="#111" stroke-width="0.35">20</text>
<text transform="translate(1282.49 1151.4) scale(1.100 1)" font-size="41.3" fill="#111" letter-spacing="1.57" stroke="#111" stroke-width="0.35">Time (Day)</text>
<text transform="translate(917.7 964) rotate(-90) translate(-0.95 0) scale(1.06 1)" font-size="45" fill="#111" stroke="#111" stroke-width="0.35"><tspan letter-spacing="-1.25">Tumor Size (mm</tspan><tspan x="298.3" y="-21.3" font-size="28.5">3</tspan><tspan x="314.8" y="0">)</tspan></text>
<text transform="translate(859.44 523.8) scale(1.036 1)" font-size="46" fill="#111" stroke="#111" stroke-width="0.4">(c)</text>
<line x1="1231" y1="986" x2="1231" y2="974" stroke="#e14a4a" stroke-width="3.4"/>
<line x1="1221.5" y1="974" x2="1240.5" y2="974" stroke="#e14a4a" stroke-width="3.4"/>
<line x1="1294" y1="986" x2="1294" y2="976" stroke="#e14a4a" stroke-width="3.4"/>
<line x1="1284.5" y1="976" x2="1303.5" y2="976" stroke="#e14a4a" stroke-width="3.4"/>
<line x1="1358" y1="968" x2="1358" y2="945.6" stroke="#e14a4a" stroke-width="3.4"/>
<line x1="1348.5" y1="945.6" x2="1367.5" y2="945.6" stroke="#e14a4a" stroke-width="3.4"/>
<line x1="1421" y1="962" x2="1421" y2="945" stroke="#e14a4a" stroke-width="3.4"/>
<line x1="1411.5" y1="945" x2="1430.5" y2="945" stroke="#e14a4a" stroke-width="3.4"/>
<line x1="1484" y1="930" x2="1484" y2="904" stroke="#e14a4a" stroke-width="3.4"/>
<line x1="1474.5" y1="904" x2="1493.5" y2="904" stroke="#e14a4a" stroke-width="3.4"/>
<line x1="1547.6" y1="910.4" x2="1547.6" y2="888" stroke="#e14a4a" stroke-width="3.4"/>
<line x1="1538.1" y1="888" x2="1557.1" y2="888" stroke="#e14a4a" stroke-width="3.4"/>
<line x1="1600.4" y1="922" x2="1600.4" y2="892.4" stroke="#e14a4a" stroke-width="3.4"/>
<line x1="1590.9" y1="892.4" x2="1609.9" y2="892.4" stroke="#e14a4a" stroke-width="3.4"/>
<polyline points="1041,1003 1105,1012 1167.6,990 1231,986 1294,986 1358,968 1421,962 1484,930 1547.6,910.4 1610.4,922" fill="none" stroke="#e14a4a" stroke-width="4" stroke-linejoin="round"/>
<polygon points="1041.0,994.4 1042.9,1000.3 1049.2,1000.3 1044.1,1004.0 1046.1,1010.0 1041.0,1006.3 1035.9,1010.0 1037.9,1004.0 1032.8,1000.3 1039.1,1000.3" fill="#f04646"/>
<polygon points="1105.0,1003.4 1106.9,1009.3 1113.2,1009.3 1108.1,1013.0 1110.1,1019.0 1105.0,1015.3 1099.9,1019.0 1101.9,1013.0 1096.8,1009.3 1103.1,1009.3" fill="#f04646"/>
<polygon points="1167.6,981.4 1169.5,987.3 1175.8,987.3 1170.7,991.0 1172.7,997.0 1167.6,993.3 1162.5,997.0 1164.5,991.0 1159.4,987.3 1165.7,987.3" fill="#f04646"/>
<polygon points="1231.0,977.4 1232.9,983.3 1239.2,983.3 1234.1,987.0 1236.1,993.0 1231.0,989.3 1225.9,993.0 1227.9,987.0 1222.8,983.3 1229.1,983.3" fill="#f04646"/>
<polygon points="1294.0,977.4 1295.9,983.3 1302.2,983.3 1297.1,987.0 1299.1,993.0 1294.0,989.3 1288.9,993.0 1290.9,987.0 1285.8,983.3 1292.1,983.3" fill="#f04646"/>
<polygon points="1358.0,959.4 1359.9,965.3 1366.2,965.3 1361.1,969.0 1363.1,975.0 1358.0,971.3 1352.9,975.0 1354.9,969.0 1349.8,965.3 1356.1,965.3" fill="#f04646"/>
<polygon points="1421.0,953.4 1422.9,959.3 1429.2,959.3 1424.1,963.0 1426.1,969.0 1421.0,965.3 1415.9,969.0 1417.9,963.0 1412.8,959.3 1419.1,959.3" fill="#f04646"/>
<polygon points="1484.0,921.4 1485.9,927.3 1492.2,927.3 1487.1,931.0 1489.1,937.0 1484.0,933.3 1478.9,937.0 1480.9,931.0 1475.8,927.3 1482.1,927.3" fill="#f04646"/>
<polygon points="1547.6,901.8 1549.5,907.7 1555.8,907.7 1550.7,911.4 1552.7,917.4 1547.6,913.7 1542.5,917.4 1544.5,911.4 1539.4,907.7 1545.7,907.7" fill="#f04646"/>
<polygon points="1610.4,913.4 1612.3,919.3 1618.6,919.3 1613.5,923.0 1615.5,929.0 1610.4,925.3 1605.3,929.0 1607.3,923.0 1602.2,919.3 1608.5,919.3" fill="#f04646"/>
<line x1="1294" y1="964" x2="1294" y2="935" stroke="#b412c3" stroke-width="3.4"/>
<line x1="1284.5" y1="935" x2="1303.5" y2="935" stroke="#b412c3" stroke-width="3.4"/>
<line x1="1358" y1="925" x2="1358" y2="882" stroke="#b412c3" stroke-width="3.4"/>
<line x1="1348.5" y1="882" x2="1367.5" y2="882" stroke="#b412c3" stroke-width="3.4"/>
<line x1="1484" y1="875.5" x2="1484" y2="824" stroke="#b412c3" stroke-width="3.4"/>
<line x1="1474.5" y1="824" x2="1493.5" y2="824" stroke="#b412c3" stroke-width="3.4"/>
<line x1="1610.4" y1="872" x2="1610.4" y2="823" stroke="#b412c3" stroke-width="3.4"/>
<line x1="1600.9" y1="823" x2="1619.9" y2="823" stroke="#b412c3" stroke-width="3.4"/>
<polyline points="1041,1000 1105,1008 1167.6,963 1231,963 1294,964 1358,925 1421,923 1484,875.5 1547.6,873 1610.4,872" fill="none" stroke="#b412c3" stroke-width="4" stroke-linejoin="round"/>
<polygon points="1050.0,1000.0 1045.5,1007.8 1036.5,1007.8 1032.0,1000.0 1036.5,992.2 1045.5,992.2" fill="#b412c3"/>
<polygon points="1114.0,1008.0 1109.5,1015.8 1100.5,1015.8 1096.0,1008.0 1100.5,1000.2 1109.5,1000.2" fill="#b412c3"/>
<polygon points="1176.6,963.0 1172.1,970.8 1163.1,970.8 1158.6,963.0 1163.1,955.2 1172.1,955.2" fill="#b412c3"/>
<polygon points="1240.0,963.0 1235.5,970.8 1226.5,970.8 1222.0,963.0 1226.5,955.2 1235.5,955.2" fill="#b412c3"/>
<polygon points="1303.0,964.0 1298.5,971.8 1289.5,971.8 1285.0,964.0 1289.5,956.2 1298.5,956.2" fill="#b412c3"/>
<polygon points="1367.0,925.0 1362.5,932.8 1353.5,932.8 1349.0,925.0 1353.5,917.2 1362.5,917.2" fill="#b412c3"/>
<polygon points="1430.0,923.0 1425.5,930.8 1416.5,930.8 1412.0,923.0 1416.5,915.2 1425.5,915.2" fill="#b412c3"/>
<polygon points="1493.0,875.5 1488.5,883.3 1479.5,883.3 1475.0,875.5 1479.5,867.7 1488.5,867.7" fill="#b412c3"/>
<polygon points="1556.6,873.0 1552.1,880.8 1543.1,880.8 1538.6,873.0 1543.1,865.2 1552.1,865.2" fill="#b412c3"/>
<polygon points="1619.4,872.0 1614.9,879.8 1605.9,879.8 1601.4,872.0 1605.9,864.2 1614.9,864.2" fill="#b412c3"/>
<line x1="1231" y1="963" x2="1231" y2="975" stroke="#c3935f" stroke-width="3.4"/>
<line x1="1221.5" y1="975" x2="1240.5" y2="975" stroke="#c3935f" stroke-width="3.4"/>
<line x1="1358" y1="919" x2="1358" y2="884" stroke="#c3935f" stroke-width="3.4"/>
<line x1="1348.5" y1="884" x2="1367.5" y2="884" stroke="#c3935f" stroke-width="3.4"/>
<line x1="1421" y1="915" x2="1421" y2="838" stroke="#c3935f" stroke-width="3.4"/>
<line x1="1411.5" y1="838" x2="1430.5" y2="838" stroke="#c3935f" stroke-width="3.4"/>
<line x1="1484" y1="891" x2="1484" y2="828" stroke="#c3935f" stroke-width="3.4"/>
<line x1="1474.5" y1="828" x2="1493.5" y2="828" stroke="#c3935f" stroke-width="3.4"/>
<line x1="1610.4" y1="850" x2="1610.4" y2="803" stroke="#c3935f" stroke-width="3.4"/>
<line x1="1600.9" y1="803" x2="1619.9" y2="803" stroke="#c3935f" stroke-width="3.4"/>
<polyline points="1041,1000 1105,1000 1167.6,970 1231,963 1294,961 1358,919 1421,915 1484,891 1547.6,870 1610.4,850" fill="none" stroke="#c3935f" stroke-width="4" stroke-linejoin="round"/>
<path d="M1032.0,1000 L1041,991.0 L1050.0,1000 L1041,1009.0 Z" fill="#c3935f"/>
<path d="M1096.0,1000 L1105,991.0 L1114.0,1000 L1105,1009.0 Z" fill="#c3935f"/>
<path d="M1158.6,970 L1167.6,961.0 L1176.6,970 L1167.6,979.0 Z" fill="#c3935f"/>
<path d="M1222.0,963 L1231,954.0 L1240.0,963 L1231,972.0 Z" fill="#c3935f"/>
<path d="M1285.0,961 L1294,952.0 L1303.0,961 L1294,970.0 Z" fill="#c3935f"/>
<path d="M1349.0,919 L1358,910.0 L1367.0,919 L1358,928.0 Z" fill="#c3935f"/>
<path d="M1412.0,915 L1421,906.0 L1430.0,915 L1421,924.0 Z" fill="#c3935f"/>
<path d="M1475.0,891 L1484,882.0 L1493.0,891 L1484,900.0 Z" fill="#c3935f"/>
<path d="M1538.6,870 L1547.6,861.0 L1556.6,870 L1547.6,879.0 Z" fill="#c3935f"/>
<path d="M1601.4,850 L1610.4,841.0 L1619.4,850 L1610.4,859.0 Z" fill="#c3935f"/>
<line x1="1358" y1="906" x2="1358" y2="882" stroke="#ff8212" stroke-width="3.4"/>
<line x1="1348.5" y1="882" x2="1367.5" y2="882" stroke="#ff8212" stroke-width="3.4"/>
<line x1="1421" y1="886" x2="1421" y2="837" stroke="#ff8212" stroke-width="3.4"/>
<line x1="1411.5" y1="837" x2="1430.5" y2="837" stroke="#ff8212" stroke-width="3.4"/>
<line x1="1484" y1="855" x2="1484" y2="809" stroke="#ff8212" stroke-width="3.4"/>
<line x1="1474.5" y1="809" x2="1493.5" y2="809" stroke="#ff8212" stroke-width="3.4"/>
<line x1="1547.6" y1="839" x2="1547.6" y2="797" stroke="#ff8212" stroke-width="3.4"/>
<line x1="1538.1" y1="797" x2="1557.1" y2="797" stroke="#ff8212" stroke-width="3.4"/>
<line x1="1610.4" y1="834" x2="1610.4" y2="770" stroke="#ff8212" stroke-width="3.4"/>
<line x1="1600.9" y1="770" x2="1619.9" y2="770" stroke="#ff8212" stroke-width="3.4"/>
<polyline points="1041,998 1105,996 1167.6,963 1231,940 1294,928 1358,906 1421,886 1484,855 1547.6,839 1610.4,834" fill="none" stroke="#ff8212" stroke-width="4" stroke-linejoin="round"/>
<path d="M1031.5,990.875 L1050.5,990.875 L1041,1007.975 Z" fill="#ff8212"/>
<path d="M1095.5,988.875 L1114.5,988.875 L1105,1005.975 Z" fill="#ff8212"/>
<path d="M1158.1,955.875 L1177.1,955.875 L1167.6,972.975 Z" fill="#ff8212"/>
<path d="M1221.5,932.875 L1240.5,932.875 L1231,949.975 Z" fill="#ff8212"/>
<path d="M1284.5,920.875 L1303.5,920.875 L1294,937.975 Z" fill="#ff8212"/>
<path d="M1348.5,898.875 L1367.5,898.875 L1358,915.975 Z" fill="#ff8212"/>
<path d="M1411.5,878.875 L1430.5,878.875 L1421,895.975 Z" fill="#ff8212"/>
<path d="M1474.5,847.875 L1493.5,847.875 L1484,864.975 Z" fill="#ff8212"/>
<path d="M1538.1,831.875 L1557.1,831.875 L1547.6,848.975 Z" fill="#ff8212"/>
<path d="M1600.9,826.875 L1619.9,826.875 L1610.4,843.975 Z" fill="#ff8212"/>
<line x1="1105" y1="972" x2="1105" y2="958" stroke="#1eb41e" stroke-width="3.4"/>
<line x1="1095.5" y1="958" x2="1114.5" y2="958" stroke="#1eb41e" stroke-width="3.4"/>
<line x1="1421" y1="878" x2="1421" y2="857.5" stroke="#1eb41e" stroke-width="3.4"/>
<line x1="1411.5" y1="857.5" x2="1430.5" y2="857.5" stroke="#1eb41e" stroke-width="3.4"/>
<line x1="1484" y1="848" x2="1484" y2="816.4" stroke="#1eb41e" stroke-width="3.4"/>
<line x1="1474.5" y1="816.4" x2="1493.5" y2="816.4" stroke="#1eb41e" stroke-width="3.4"/>
<line x1="1547.6" y1="828.5" x2="1547.6" y2="789.6" stroke="#1eb41e" stroke-width="3.4"/>
<line x1="1538.1" y1="789.6" x2="1557.1" y2="789.6" stroke="#1eb41e" stroke-width="3.4"/>
<line x1="1610.4" y1="792" x2="1610.4" y2="739" stroke="#1eb41e" stroke-width="3.4"/>
<line x1="1600.9" y1="739" x2="1619.9" y2="739" stroke="#1eb41e" stroke-width="3.4"/>
<polyline points="1041,990 1105,972 1167.6,962 1231,925 1294,917.6 1358,897 1421,878 1484,848 1547.6,828.5 1610.4,792" fill="none" stroke="#1eb41e" stroke-width="4" stroke-linejoin="round"/>
<path d="M1031.5,997.125 L1050.5,997.125 L1041,980.025 Z" fill="#1eb41e"/>
<path d="M1095.5,979.125 L1114.5,979.125 L1105,962.025 Z" fill="#1eb41e"/>
<path d="M1158.1,969.125 L1177.1,969.125 L1167.6,952.025 Z" fill="#1eb41e"/>
<path d="M1221.5,932.125 L1240.5,932.125 L1231,915.025 Z" fill="#1eb41e"/>
<path d="M1284.5,924.725 L1303.5,924.725 L1294,907.625 Z" fill="#1eb41e"/>
<path d="M1348.5,904.125 L1367.5,904.125 L1358,887.025 Z" fill="#1eb41e"/>
<path d="M1411.5,885.125 L1430.5,885.125 L1421,868.025 Z" fill="#1eb41e"/>
<path d="M1474.5,855.125 L1493.5,855.125 L1484,838.025 Z" fill="#1eb41e"/>
<path d="M1538.1,835.625 L1557.1,835.625 L1547.6,818.525 Z" fill="#1eb41e"/>
<path d="M1600.9,799.125 L1619.9,799.125 L1610.4,782.025 Z" fill="#1eb41e"/>
<line x1="1294" y1="900" x2="1294" y2="878" stroke="#5a9ee8" stroke-width="3.4"/>
<line x1="1284.5" y1="878" x2="1303.5" y2="878" stroke="#5a9ee8" stroke-width="3.4"/>
<line x1="1421" y1="827" x2="1421" y2="770.4" stroke="#5a9ee8" stroke-width="3.4"/>
<line x1="1411.5" y1="770.4" x2="1430.5" y2="770.4" stroke="#5a9ee8" stroke-width="3.4"/>
<line x1="1484" y1="798" x2="1484" y2="731.6" stroke="#5a9ee8" stroke-width="3.4"/>
<line x1="1474.5" y1="731.6" x2="1493.5" y2="731.6" stroke="#5a9ee8" stroke-width="3.4"/>
<line x1="1547.6" y1="777" x2="1547.6" y2="689" stroke="#5a9ee8" stroke-width="3.4"/>
<line x1="1538.1" y1="689" x2="1557.1" y2="689" stroke="#5a9ee8" stroke-width="3.4"/>
<polyline points="1041,998 1105,990 1167.6,946 1231,925 1294,900 1358,867 1421,827 1484,798 1547.6,777 1610.4,694.4" fill="none" stroke="#5a9ee8" stroke-width="4" stroke-linejoin="round"/>
<rect x="1032.2" y="989.2" width="17.6" height="17.6" fill="#5a9ee8"/>
<rect x="1096.2" y="981.2" width="17.6" height="17.6" fill="#5a9ee8"/>
<rect x="1158.8" y="937.2" width="17.6" height="17.6" fill="#5a9ee8"/>
<rect x="1222.2" y="916.2" width="17.6" height="17.6" fill="#5a9ee8"/>
<rect x="1285.2" y="891.2" width="17.6" height="17.6" fill="#5a9ee8"/>
<rect x="1349.2" y="858.2" width="17.6" height="17.6" fill="#5a9ee8"/>
<rect x="1412.2" y="818.2" width="17.6" height="17.6" fill="#5a9ee8"/>
<rect x="1475.2" y="789.2" width="17.6" height="17.6" fill="#5a9ee8"/>
<rect x="1538.8" y="768.2" width="17.6" height="17.6" fill="#5a9ee8"/>
<rect x="1601.6000000000001" y="685.6" width="17.6" height="17.6" fill="#5a9ee8"/>
<line x1="1041" y1="991" x2="1041" y2="980" stroke="#000000" stroke-width="4"/>
<line x1="1031.5" y1="980" x2="1050.5" y2="980" stroke="#000000" stroke-width="4"/>
<line x1="1105" y1="973.6" x2="1105" y2="957.6" stroke="#000000" stroke-width="4"/>
<line x1="1095.5" y1="957.6" x2="1114.5" y2="957.6" stroke="#000000" stroke-width="4"/>
<line x1="1167.6" y1="919.6" x2="1167.6" y2="847" stroke="#000000" stroke-width="4"/>
<line x1="1158.1" y1="847" x2="1177.1" y2="847" stroke="#000000" stroke-width="4"/>
<line x1="1231" y1="897" x2="1231" y2="811" stroke="#000000" stroke-width="4"/>
<line x1="1221.5" y1="811" x2="1240.5" y2="811" stroke="#000000" stroke-width="4"/>
<line x1="1294" y1="871.6" x2="1294" y2="796.7" stroke="#000000" stroke-width="4"/>
<line x1="1284.5" y1="796.7" x2="1303.5" y2="796.7" stroke="#000000" stroke-width="4"/>
<line x1="1358" y1="824" x2="1358" y2="733" stroke="#000000" stroke-width="4"/>
<line x1="1348.5" y1="733" x2="1367.5" y2="733" stroke="#000000" stroke-width="4"/>
<line x1="1421" y1="804" x2="1421" y2="733" stroke="#000000" stroke-width="4"/>
<line x1="1411.5" y1="733" x2="1430.5" y2="733" stroke="#000000" stroke-width="4"/>
<line x1="1484" y1="777" x2="1484" y2="677.6" stroke="#000000" stroke-width="4"/>
<line x1="1474.5" y1="677.6" x2="1493.5" y2="677.6" stroke="#000000" stroke-width="4"/>
<line x1="1547.6" y1="765" x2="1547.6" y2="677.6" stroke="#000000" stroke-width="4"/>
<line x1="1538.1" y1="677.6" x2="1557.1" y2="677.6" stroke="#000000" stroke-width="4"/>
<line x1="1610.4" y1="677.6" x2="1610.4" y2="586.8" stroke="#000000" stroke-width="4"/>
<line x1="1600.9" y1="586.8" x2="1619.9" y2="586.8" stroke="#000000" stroke-width="4"/>
<polyline points="1041,991 1105,973.6 1167.6,919.6 1231,897 1294,871.6 1358,824 1421,804 1484,777 1547.6,765 1610.4,677.6" fill="none" stroke="#000000" stroke-width="4.2" stroke-linejoin="round"/>
<circle cx="1041" cy="991" r="9.3" fill="#000000"/>
<circle cx="1105" cy="973.6" r="9.3" fill="#000000"/>
<circle cx="1167.6" cy="919.6" r="9.3" fill="#000000"/>
<circle cx="1231" cy="897" r="9.3" fill="#000000"/>
<circle cx="1294" cy="871.6" r="9.3" fill="#000000"/>
<circle cx="1358" cy="824" r="9.3" fill="#000000"/>
<circle cx="1421" cy="804" r="9.3" fill="#000000"/>
<circle cx="1484" cy="777" r="9.3" fill="#000000"/>
<circle cx="1547.6" cy="765" r="9.3" fill="#000000"/>
<circle cx="1610.4" cy="677.6" r="9.3" fill="#000000"/>
<line x1="1041" y1="998" x2="1041" y2="1030" stroke="#5a9ee8" stroke-width="3.4"/>
<line x1="1057.5" y1="596.4" x2="1107.6" y2="596.4" stroke="#000000" stroke-width="3.2"/>
<circle cx="1082.4" cy="596.4" r="8.928" fill="#000000"/>
<text transform="translate(1134.72 610.2) scale(1.010 1)" font-size="37.2" fill="#111" stroke="#111" stroke-width="0.3">G1</text>
<line x1="1057.5" y1="653" x2="1107.6" y2="653" stroke="#1eb41e" stroke-width="3.2"/>
<path d="M1073.2800000000002,659.84 L1091.52,659.84 L1082.4,643.424 Z" fill="#1eb41e"/>
<text transform="translate(1134.62 667.1) scale(1.064 1)" font-size="37.2" fill="#111" stroke="#111" stroke-width="0.3">G3</text>
<line x1="1057.5" y1="707.2" x2="1107.6" y2="707.2" stroke="#c3935f" stroke-width="3.2"/>
<path d="M1073.76,707.2 L1082.4,698.5600000000001 L1091.0400000000002,707.2 L1082.4,715.84 Z" fill="#c3935f"/>
<text transform="translate(1134.62 726.2) scale(1.064 1)" font-size="37.2" fill="#111" stroke="#111" stroke-width="0.3">G5</text>
<line x1="1057.5" y1="768.6" x2="1107.6" y2="768.6" stroke="#e14a4a" stroke-width="3.2"/>
<polygon points="1082.4,760.3 1084.3,766.0 1090.3,766.0 1085.4,769.6 1087.3,775.3 1082.4,771.8 1077.5,775.3 1079.4,769.6 1074.5,766.0 1080.5,766.0" fill="#f04646"/>
<text transform="translate(1134.64 783.7) scale(1.056 1)" font-size="37.2" fill="#111" stroke="#111" stroke-width="0.3">G7</text>
<line x1="1226.5" y1="595.8" x2="1275.5" y2="595.8" stroke="#5a9ee8" stroke-width="3.2"/>
<rect x="1242.952" y="587.352" width="16.896" height="16.896" fill="#5a9ee8"/>
<text transform="translate(1302.18 610.2) scale(1.088 1)" font-size="37.2" fill="#111" stroke="#111" stroke-width="0.3">G2</text>
<line x1="1220.3" y1="652.6" x2="1268.9" y2="652.6" stroke="#ff8212" stroke-width="3.2"/>
<path d="M1235.48,645.76 L1253.7199999999998,645.76 L1244.6,662.176 Z" fill="#ff8212"/>
<text transform="translate(1296.01 667.1) scale(1.071 1)" font-size="37.2" fill="#111" stroke="#111" stroke-width="0.3">G4</text>
<line x1="1223.6" y1="708.1" x2="1272.6" y2="708.1" stroke="#b412c3" stroke-width="3.2"/>
<polygon points="1256.5,708.1 1252.2,715.6 1243.6,715.6 1239.3,708.1 1243.6,700.6 1252.2,700.6" fill="#b412c3"/>
<text transform="translate(1299.26 725.4) scale(1.097 1)" font-size="37.2" fill="#111" stroke="#111" stroke-width="0.3">G6</text>
<line x1="1643.5" y1="830.7" x2="1643.5" y2="932" stroke="#3a3a3a" stroke-width="2.8"/>
<line x1="1674.2" y1="698" x2="1674.2" y2="932" stroke="#3a3a3a" stroke-width="2.8"/>
<line x1="1705.1" y1="658" x2="1705.1" y2="932" stroke="#3a3a3a" stroke-width="2.8"/>
<text transform="translate(1679,882.5) rotate(-90)" font-size="42" text-anchor="middle" fill="#111">*</text>
<text transform="translate(1709,813.5) rotate(-90)" font-size="42" text-anchor="middle" fill="#111" letter-spacing="4.6">***</text>
<text transform="translate(1744,793.2) rotate(-90)" font-size="42" text-anchor="middle" fill="#111" letter-spacing="4.6">***</text>
</g>
</svg>
</body></html>
